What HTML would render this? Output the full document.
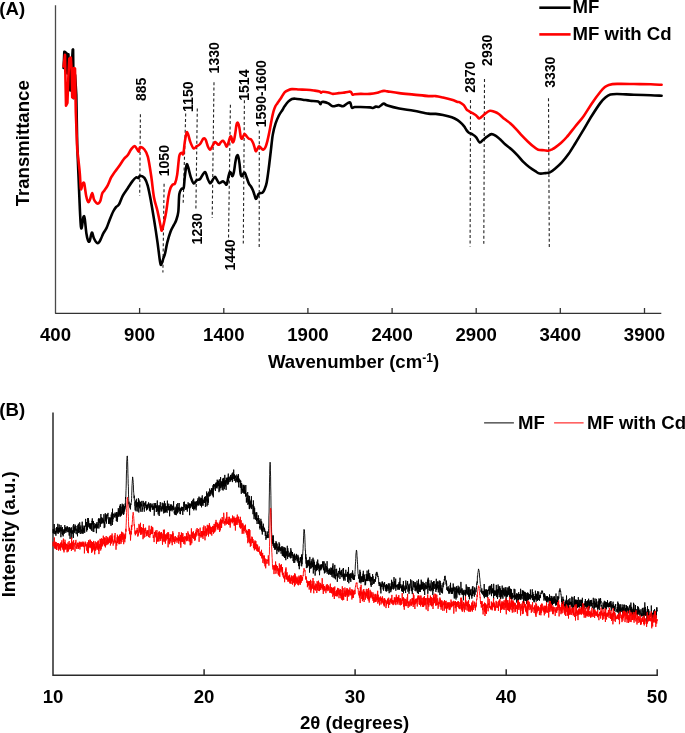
<!DOCTYPE html>
<html><head><meta charset="utf-8"><style>
html,body{margin:0;padding:0;background:#fff;}
body{width:685px;height:733px;overflow:hidden;font-family:"Liberation Sans",sans-serif;}
svg{display:block;will-change:transform;}
</style></head><body>
<svg width="685" height="733" viewBox="0 0 685 733">
<rect width="685" height="733" fill="#fff"/>
<g fill="none" stroke="#4a4a4a" stroke-width="1.3">
<path d="M55.5,5.3 V313.4"/>
</g><g fill="none" stroke="#333" stroke-width="1.3">
<path d="M55.2,313.4 H661.3"/>
<path d="M139.6,313.4 V308"/>
<path d="M223.8,313.4 V308"/>
<path d="M307.9,313.4 V308"/>
<path d="M392.1,313.4 V308"/>
<path d="M476.2,313.4 V308"/>
<path d="M560.3,313.4 V308"/>
<path d="M644.5,313.4 V308"/>
</g>
<g stroke="#222" stroke-width="1.1" stroke-dasharray="3 2.4" fill="none">
<path d="M140.4,114.2 L139.7,195.8"/>
<path d="M164.1,183.8 L162.9,272.6"/>
<path d="M185.7,113.5 L183.2,202.8"/>
<path d="M197.3,108.4 L195.9,208.5"/>
<path d="M214.0,82.2 L212.2,218.0"/>
<path d="M230.4,104.8 L228.5,240.0"/>
<path d="M244.4,100.3 L243.3,243.4"/>
<path d="M259.3,130.5 L259.2,247.0"/>
<path d="M470.5,100.1 L470.1,246.4"/>
<path d="M484.5,79.1 L483.8,243.7"/>
<path d="M548.5,98.3 L549.3,248.5"/>
</g>
<path fill="none" stroke="#000" stroke-width="2.6" stroke-linejoin="round" stroke-linecap="round" d="M63.60,68.00 L64.30,51.80 L65.50,52.30 L66.90,53.70 L67.40,73.50 L68.40,54.20 L70.30,90.50 L72.70,49.90 L73.10,49.40 L73.60,98.20 L75.10,75.00 L76.30,95.00 L77.20,144.00 C77.40,148.95 77.78,159.95 78.40,173.70 C79.02,187.45 80.07,219.28 80.90,226.50 C81.73,233.72 82.77,218.33 83.40,217.00 C84.03,215.67 84.20,215.75 84.70,218.50 C85.20,221.25 85.85,229.83 86.40,233.50 C86.95,237.17 87.45,239.25 88.00,240.50 C88.55,241.75 89.07,242.33 89.70,241.00 C90.33,239.67 91.08,232.92 91.80,232.50 C92.52,232.08 93.17,236.78 94.00,238.50 C94.83,240.22 95.97,242.17 96.80,242.80 C97.63,243.43 98.28,243.02 99.00,242.30 C99.72,241.58 100.38,239.98 101.10,238.50 C101.82,237.02 102.38,235.17 103.30,233.40 C104.22,231.63 105.50,230.27 106.60,227.90 C107.70,225.53 108.80,221.93 109.90,219.20 C111.00,216.47 112.18,213.50 113.20,211.50 C114.22,209.50 115.03,208.38 116.00,207.20 C116.97,206.02 117.88,206.30 119.00,204.40 C120.12,202.50 121.27,198.45 122.70,195.80 C124.13,193.15 125.97,190.95 127.60,188.50 C129.23,186.05 131.07,182.95 132.50,181.10 C133.93,179.25 135.18,177.90 136.20,177.40 C137.22,176.90 137.97,178.38 138.60,178.10 C139.23,177.82 139.03,175.73 140.00,175.70 C140.97,175.67 143.12,176.25 144.40,177.90 C145.68,179.55 146.62,181.77 147.70,185.60 C148.78,189.43 149.82,195.08 150.90,200.90 C151.98,206.72 153.10,213.58 154.20,220.50 C155.30,227.42 156.52,235.47 157.50,242.40 C158.48,249.33 159.45,258.45 160.10,262.10 C160.75,265.75 160.82,265.03 161.40,264.30 C161.98,263.57 162.98,259.53 163.60,257.70 C164.22,255.87 164.48,255.85 165.10,253.30 C165.72,250.75 166.38,246.03 167.30,242.40 C168.22,238.77 169.50,234.42 170.60,231.50 C171.70,228.58 172.98,226.73 173.90,224.90 C174.82,223.07 175.37,222.68 176.10,220.50 C176.83,218.32 177.77,216.17 178.30,211.80 C178.83,207.43 178.77,198.12 179.30,194.30 C179.83,190.48 180.77,189.98 181.50,188.90 C182.23,187.82 183.15,189.82 183.70,187.80 C184.25,185.78 184.32,180.63 184.80,176.80 C185.28,172.97 186.05,166.43 186.60,164.80 C187.15,163.17 187.42,165.00 188.10,167.00 C188.78,169.00 189.78,174.07 190.70,176.80 C191.62,179.53 192.58,182.85 193.60,183.40 C194.62,183.95 195.72,180.83 196.80,180.10 C197.88,179.37 199.00,180.08 200.10,179.00 C201.20,177.92 202.48,174.68 203.40,173.60 C204.32,172.52 204.87,171.60 205.60,172.50 C206.33,173.40 207.07,177.22 207.80,179.00 C208.53,180.78 209.30,182.87 210.00,183.20 C210.70,183.53 211.20,182.05 212.00,181.00 C212.80,179.95 214.00,177.13 214.80,176.90 C215.60,176.67 216.12,178.58 216.80,179.60 C217.48,180.62 218.22,182.53 218.90,183.00 C219.58,183.47 220.22,182.68 220.90,182.40 C221.58,182.12 222.32,181.20 223.00,181.30 C223.68,181.40 224.38,182.48 225.00,183.00 C225.62,183.52 226.13,185.42 226.70,184.40 C227.27,183.38 227.88,178.95 228.40,176.90 C228.92,174.85 229.33,172.67 229.80,172.10 C230.27,171.53 230.75,172.82 231.20,173.50 C231.65,174.18 232.05,176.43 232.50,176.20 C232.95,175.97 233.43,174.37 233.90,172.10 C234.37,169.83 234.85,165.22 235.30,162.60 C235.75,159.98 236.15,157.55 236.60,156.40 C237.05,155.25 237.53,154.67 238.00,155.70 C238.47,156.73 238.95,159.52 239.40,162.60 C239.85,165.68 240.25,171.93 240.70,174.20 C241.15,176.47 241.65,176.32 242.10,176.20 C242.55,176.08 242.95,174.07 243.40,173.50 C243.85,172.93 244.22,172.00 244.80,172.80 C245.38,173.60 246.22,176.48 246.90,178.30 C247.58,180.12 248.22,182.33 248.90,183.70 C249.58,185.07 250.32,185.37 251.00,186.50 C251.68,187.63 252.43,189.15 253.00,190.50 C253.57,191.85 253.95,193.23 254.40,194.60 C254.85,195.97 255.25,198.23 255.70,198.70 C256.15,199.17 256.63,198.18 257.10,197.40 C257.57,196.62 257.93,194.73 258.50,194.00 C259.07,193.27 259.82,193.23 260.50,193.00 C261.18,192.77 261.92,193.23 262.60,192.60 C263.28,191.97 263.92,190.90 264.60,189.20 C265.28,187.50 266.02,185.82 266.70,182.40 C267.38,178.98 268.02,173.93 268.70,168.70 C269.38,163.47 270.12,156.68 270.80,151.00 C271.48,145.32 272.02,139.15 272.80,134.60 C273.58,130.05 274.48,126.88 275.50,123.70 C276.52,120.52 277.75,117.78 278.90,115.50 C280.05,113.22 281.45,111.53 282.40,110.00 C283.35,108.47 283.63,107.70 284.60,106.30 C285.57,104.90 286.98,102.82 288.20,101.60 C289.42,100.38 290.68,99.48 291.90,99.00 C293.12,98.52 293.68,98.58 295.50,98.70 C297.32,98.82 300.37,99.37 302.80,99.70 C305.23,100.03 307.53,100.38 310.10,100.70 C312.67,101.02 316.48,101.03 318.20,101.60 C319.92,102.17 319.92,103.93 320.40,104.10 C320.88,104.27 320.62,102.97 321.10,102.60 C321.58,102.23 322.08,101.77 323.30,101.90 C324.52,102.03 326.82,102.67 328.40,103.40 C329.98,104.13 331.10,106.02 332.80,106.30 C334.50,106.58 336.90,105.10 338.60,105.10 C340.30,105.10 341.53,106.58 343.00,106.30 C344.47,106.02 346.18,104.02 347.40,103.40 C348.62,102.78 349.57,101.88 350.30,102.60 C351.03,103.32 351.07,106.97 351.80,107.70 C352.53,108.43 353.25,107.12 354.70,107.00 C356.15,106.88 357.95,106.93 360.50,107.00 C363.05,107.07 367.93,107.23 370.00,107.40 C372.07,107.57 371.93,108.13 372.90,108.00 C373.87,107.87 374.82,106.77 375.80,106.60 C376.78,106.43 377.82,107.30 378.80,107.00 C379.78,106.70 380.85,105.37 381.70,104.80 C382.55,104.23 382.93,103.48 383.90,103.60 C384.87,103.72 384.95,104.68 387.50,105.50 C390.05,106.32 394.82,107.63 399.20,108.50 C403.58,109.37 408.93,109.85 413.80,110.70 C418.67,111.55 424.75,113.07 428.40,113.60 C432.05,114.13 433.27,113.67 435.70,113.90 C438.13,114.13 440.32,114.45 443.00,115.00 C445.68,115.55 449.37,116.35 451.80,117.20 C454.23,118.05 455.90,119.00 457.60,120.10 C459.30,121.20 460.78,122.58 462.00,123.80 C463.22,125.02 464.17,126.37 464.90,127.40 C465.63,128.43 465.73,129.12 466.40,130.00 C467.07,130.88 467.88,131.97 468.90,132.70 C469.92,133.43 471.28,133.63 472.50,134.40 C473.72,135.17 475.03,135.97 476.20,137.30 C477.37,138.63 478.42,141.90 479.50,142.40 C480.58,142.90 481.43,141.27 482.70,140.30 C483.97,139.33 485.63,137.63 487.10,136.60 C488.57,135.57 490.03,134.22 491.50,134.10 C492.97,133.98 494.43,135.00 495.90,135.90 C497.37,136.80 498.72,138.05 500.30,139.50 C501.88,140.95 503.47,142.90 505.40,144.60 C507.33,146.30 509.83,147.87 511.90,149.70 C513.97,151.53 515.85,153.52 517.80,155.60 C519.75,157.68 521.65,160.25 523.60,162.20 C525.55,164.15 527.55,165.80 529.50,167.30 C531.45,168.80 533.60,170.17 535.30,171.20 C537.00,172.23 538.00,173.18 539.70,173.50 C541.40,173.82 543.80,173.28 545.50,173.10 C547.20,172.92 548.32,173.13 549.90,172.40 C551.48,171.67 553.02,170.38 555.00,168.70 C556.98,167.02 559.55,164.75 561.80,162.30 C564.05,159.85 566.27,157.13 568.50,154.00 C570.73,150.87 572.68,147.57 575.20,143.50 C577.72,139.43 580.80,134.27 583.60,129.60 C586.40,124.93 589.20,119.95 592.00,115.50 C594.80,111.05 598.17,105.90 600.40,102.90 C602.63,99.90 603.73,98.88 605.40,97.50 C607.07,96.12 608.45,95.18 610.40,94.60 C612.35,94.02 613.18,93.97 617.10,94.00 C621.02,94.03 628.30,94.60 633.90,94.80 C639.50,95.00 646.08,95.05 650.70,95.20 C655.32,95.35 659.78,95.62 661.60,95.70"/>
<path fill="none" stroke="#f00" stroke-width="2.6" stroke-linejoin="round" stroke-linecap="round" d="M63.60,66.50 L65.00,54.70 L66.00,105.80 L67.40,102.90 L68.40,76.40 L69.30,58.50 L70.80,57.50 L71.70,71.60 L72.20,97.20 L73.40,97.70 L74.00,68.10 L75.00,68.50 L75.80,112.00 L77.20,149.00 C77.62,152.83 79.08,165.33 79.70,172.00 C80.32,178.67 80.43,187.00 80.90,189.00 C81.37,191.00 81.95,184.92 82.50,184.00 C83.05,183.08 83.58,181.50 84.20,183.50 C84.82,185.50 85.53,192.92 86.20,196.00 C86.87,199.08 87.57,201.42 88.20,202.00 C88.83,202.58 89.33,201.00 90.00,199.50 C90.67,198.00 91.53,193.00 92.20,193.00 C92.87,193.00 93.28,197.83 94.00,199.50 C94.72,201.17 95.75,202.33 96.50,203.00 C97.25,203.67 97.83,203.92 98.50,203.50 C99.17,203.08 99.88,202.17 100.50,200.50 C101.12,198.83 101.55,195.17 102.20,193.50 C102.85,191.83 103.48,191.87 104.40,190.50 C105.32,189.13 106.60,187.43 107.70,185.30 C108.80,183.17 109.95,179.75 111.00,177.70 C112.05,175.65 112.67,174.90 114.00,173.00 C115.33,171.10 117.35,168.63 119.00,166.30 C120.65,163.97 122.47,160.83 123.90,159.00 C125.33,157.17 126.37,156.95 127.60,155.30 C128.83,153.65 130.07,150.62 131.30,149.10 C132.53,147.58 133.78,145.78 135.00,146.20 C136.22,146.62 137.77,151.42 138.60,151.60 C139.43,151.78 139.03,147.65 140.00,147.30 C140.97,146.95 143.08,147.90 144.40,149.50 C145.72,151.10 146.77,152.48 147.90,156.90 C149.03,161.32 150.18,169.23 151.20,176.00 C152.22,182.77 152.95,191.67 154.00,197.50 C155.05,203.33 156.37,206.07 157.50,211.00 C158.63,215.93 160.07,223.87 160.80,227.10 C161.53,230.33 161.37,231.13 161.90,230.40 C162.43,229.67 163.28,225.80 164.00,222.70 C164.72,219.60 165.47,216.17 166.20,211.80 C166.93,207.43 167.67,200.50 168.40,196.50 C169.13,192.50 169.87,189.80 170.60,187.80 C171.33,185.80 172.07,185.23 172.80,184.50 C173.53,183.77 174.27,185.05 175.00,183.40 C175.73,181.75 176.48,179.15 177.20,174.60 C177.92,170.05 178.58,159.73 179.30,156.10 C180.02,152.47 180.83,153.17 181.50,152.80 C182.17,152.43 182.75,155.72 183.30,153.90 C183.85,152.08 184.25,145.43 184.80,141.90 C185.35,138.37 186.05,133.98 186.60,132.70 C187.15,131.42 187.48,132.67 188.10,134.20 C188.72,135.73 189.38,139.53 190.30,141.90 C191.22,144.27 192.52,147.68 193.60,148.40 C194.68,149.12 195.72,146.93 196.80,146.20 C197.88,145.47 199.00,145.27 200.10,144.00 C201.20,142.73 202.48,139.32 203.40,138.60 C204.32,137.88 204.87,138.43 205.60,139.70 C206.33,140.97 207.07,144.55 207.80,146.20 C208.53,147.85 209.30,149.48 210.00,149.60 C210.70,149.72 211.20,148.15 212.00,146.90 C212.80,145.65 214.00,142.68 214.80,142.10 C215.60,141.52 216.12,142.95 216.80,143.40 C217.48,143.85 218.22,145.02 218.90,144.80 C219.58,144.58 220.22,142.78 220.90,142.10 C221.58,141.42 222.32,140.48 223.00,140.70 C223.68,140.92 224.38,142.42 225.00,143.40 C225.62,144.38 226.13,146.70 226.70,146.60 C227.27,146.50 227.88,144.23 228.40,142.80 C228.92,141.37 229.33,139.03 229.80,138.00 C230.27,136.97 230.75,135.92 231.20,136.60 C231.65,137.28 232.05,141.42 232.50,142.10 C232.95,142.78 233.43,142.18 233.90,140.70 C234.37,139.22 234.85,135.93 235.30,133.20 C235.75,130.47 236.15,126.00 236.60,124.30 C237.05,122.60 237.53,122.43 238.00,123.00 C238.47,123.57 238.95,125.43 239.40,127.70 C239.85,129.97 240.25,134.77 240.70,136.60 C241.15,138.43 241.65,138.82 242.10,138.70 C242.55,138.58 242.95,136.70 243.40,135.90 C243.85,135.10 244.22,133.78 244.80,133.90 C245.38,134.02 246.22,135.80 246.90,136.60 C247.58,137.40 248.22,138.23 248.90,138.70 C249.58,139.17 250.32,138.72 251.00,139.40 C251.68,140.08 252.43,141.55 253.00,142.80 C253.57,144.05 253.95,145.53 254.40,146.90 C254.85,148.27 255.25,150.55 255.70,151.00 C256.15,151.45 256.53,150.40 257.10,149.60 C257.67,148.80 258.42,146.43 259.10,146.20 C259.78,145.97 260.52,147.63 261.20,148.20 C261.88,148.77 262.52,149.72 263.20,149.60 C263.88,149.48 264.62,148.87 265.30,147.50 C265.98,146.13 266.62,144.02 267.30,141.40 C267.98,138.78 268.72,135.22 269.40,131.80 C270.08,128.38 270.72,124.30 271.40,120.90 C272.08,117.50 272.82,113.88 273.50,111.40 C274.18,108.92 274.87,107.33 275.50,106.00 C276.13,104.67 276.40,104.70 277.30,103.40 C278.20,102.10 279.68,100.03 280.90,98.20 C282.12,96.37 283.38,93.73 284.60,92.40 C285.82,91.07 286.98,90.75 288.20,90.20 C289.42,89.65 290.07,89.22 291.90,89.10 C293.73,88.98 296.77,89.38 299.20,89.50 C301.63,89.62 304.07,89.63 306.50,89.80 C308.93,89.97 311.62,90.23 313.80,90.50 C315.98,90.77 318.38,91.02 319.60,91.40 C320.82,91.78 320.60,92.75 321.10,92.80 C321.60,92.85 321.38,91.77 322.60,91.70 C323.82,91.63 326.70,92.03 328.40,92.40 C330.10,92.77 331.10,93.78 332.80,93.90 C334.50,94.02 336.90,93.28 338.60,93.10 C340.30,92.92 341.30,93.03 343.00,92.80 C344.70,92.57 347.47,91.83 348.80,91.70 C350.13,91.57 350.38,91.52 351.00,92.00 C351.62,92.48 351.88,94.23 352.50,94.60 C353.12,94.97 353.37,94.32 354.70,94.20 C356.03,94.08 357.95,93.95 360.50,93.90 C363.05,93.85 367.20,94.08 370.00,93.90 C372.80,93.72 375.60,93.17 377.30,92.80 C379.00,92.43 379.10,92.02 380.20,91.70 C381.30,91.38 382.68,90.95 383.90,90.90 C385.12,90.85 384.95,91.03 387.50,91.40 C390.05,91.77 394.82,92.57 399.20,93.10 C403.58,93.63 408.93,94.10 413.80,94.60 C418.67,95.10 424.75,95.85 428.40,96.10 C432.05,96.35 433.27,95.87 435.70,96.10 C438.13,96.33 440.32,96.90 443.00,97.50 C445.68,98.10 449.37,98.97 451.80,99.70 C454.23,100.43 456.33,101.48 457.60,101.90 C458.87,102.32 458.37,101.65 459.40,102.20 C460.43,102.75 462.58,103.97 463.80,105.20 C465.02,106.43 465.85,108.62 466.70,109.60 C467.55,110.58 467.93,110.50 468.90,111.10 C469.87,111.70 471.28,112.48 472.50,113.20 C473.72,113.92 475.10,114.53 476.20,115.40 C477.30,116.27 478.13,118.20 479.10,118.40 C480.07,118.60 480.90,117.47 482.00,116.60 C483.10,115.73 484.37,114.17 485.70,113.20 C487.03,112.23 488.55,111.03 490.00,110.80 C491.45,110.57 492.93,111.27 494.40,111.80 C495.87,112.33 497.10,112.78 498.80,114.00 C500.50,115.22 502.65,117.52 504.60,119.10 C506.55,120.68 508.55,121.80 510.50,123.50 C512.45,125.20 514.35,127.23 516.30,129.30 C518.25,131.37 520.25,133.83 522.20,135.90 C524.15,137.97 526.07,139.88 528.00,141.70 C529.93,143.52 532.10,145.47 533.80,146.80 C535.50,148.13 536.48,149.13 538.20,149.70 C539.92,150.27 542.40,150.02 544.10,150.20 C545.80,150.38 547.07,150.95 548.40,150.80 C549.73,150.65 551.00,149.83 552.10,149.30 C553.20,148.77 553.53,148.65 555.00,147.60 C556.47,146.55 558.93,144.77 560.90,143.00 C562.87,141.23 564.42,139.75 566.80,137.00 C569.18,134.25 572.40,129.97 575.20,126.50 C578.00,123.03 580.80,120.08 583.60,116.20 C586.40,112.32 589.20,107.27 592.00,103.20 C594.80,99.13 598.30,94.45 600.40,91.80 C602.50,89.15 603.20,88.45 604.60,87.30 C606.00,86.15 606.72,85.47 608.80,84.90 C610.88,84.33 612.92,84.05 617.10,83.90 C621.28,83.75 628.30,83.93 633.90,84.00 C639.50,84.07 646.08,84.17 650.70,84.30 C655.32,84.43 659.78,84.72 661.60,84.80"/>
<g style="font-family:'Liberation Sans',sans-serif;font-weight:bold;font-size:14px" fill="#000">
<text transform="translate(145.5,101.0) rotate(-90)">885</text>
<text transform="translate(168.8,176.2) rotate(-90)">1050</text>
<text transform="translate(192.6,111.9) rotate(-90)">1150</text>
<text transform="translate(202.3,244.4) rotate(-90)">1230</text>
<text transform="translate(218.5,73.4) rotate(-90)">1330</text>
<text transform="translate(235.2,270.5) rotate(-90)">1440</text>
<text transform="translate(249.0,100.7) rotate(-90)">1514</text>
<text transform="translate(266.0,127.2) rotate(-90)">1590-1600</text>
<text transform="translate(474.9,92.7) rotate(-90)">2870</text>
<text transform="translate(491.7,65.9) rotate(-90)">2930</text>
<text transform="translate(554.8,87.8) rotate(-90)">3330</text>
</g>
<g style="font-family:'Liberation Sans',sans-serif;font-weight:bold;font-size:18.6px" fill="#000" text-anchor="middle">
<text x="55.5" y="341">400</text>
<text x="139.6" y="341">900</text>
<text x="223.8" y="341">1400</text>
<text x="307.9" y="341">1900</text>
<text x="392.1" y="341">2400</text>
<text x="476.2" y="341">2900</text>
<text x="560.3" y="341">3400</text>
<text x="644.5" y="341">3900</text>
</g>
<text x="353.5" y="368.3" text-anchor="middle" style="font-family:'Liberation Sans',sans-serif;font-weight:bold;font-size:18.6px">Wavenumber (cm<tspan dy="-6" style="font-size:12px">-1</tspan><tspan dy="6">)</tspan></text>
<text transform="translate(29,143.3) rotate(-90)" text-anchor="middle" style="font-family:'Liberation Sans',sans-serif;font-weight:bold;font-size:18.6px">Transmittance</text>
<text x="-0.7" y="15" style="font-family:'Liberation Sans',sans-serif;font-weight:bold;font-size:18.6px">(A)</text>
<path d="M539.3,7.7 H570.6" stroke="#000" stroke-width="2.6"/>
<path d="M539.3,34.4 H570.6" stroke="#f00" stroke-width="2.6"/>
<text x="572.5" y="12.8" style="font-family:'Liberation Sans',sans-serif;font-weight:bold;font-size:18.6px">MF</text>
<text x="572.5" y="40" style="font-family:'Liberation Sans',sans-serif;font-weight:bold;font-size:18.6px">MF with Cd</text>
<g fill="none" stroke="#2a2a2a" stroke-width="1.5">
<path d="M53,412.6 V675.2 H657.2 V669.3"/>
<path d="M204.1,675.2 V669.3"/>
<path d="M355.1,675.2 V669.3"/>
<path d="M506.2,675.2 V669.3"/>
</g>
<polyline fill="none" stroke="#000" stroke-width="0.9" stroke-linejoin="round" points="53.0,533.1 53.2,529.2 53.3,530.8 53.5,533.0 53.6,530.0 53.8,533.6 53.9,529.6 54.1,530.9 54.2,524.0 54.4,530.5 54.5,530.9 54.7,530.8 54.8,534.1 55.0,532.6 55.1,530.8 55.3,532.2 55.4,531.2 55.6,533.8 55.7,531.8 55.9,535.7 56.0,531.4 56.2,528.1 56.3,531.0 56.5,527.4 56.6,530.6 56.8,532.2 56.9,527.0 57.1,533.4 57.2,528.0 57.4,528.6 57.5,531.3 57.7,530.2 57.8,523.8 58.0,527.3 58.1,533.1 58.3,533.8 58.4,527.7 58.6,528.2 58.7,532.2 58.9,528.3 59.0,532.0 59.2,524.5 59.3,526.4 59.5,528.0 59.6,532.4 59.8,530.0 60.0,528.0 60.1,528.3 60.3,530.6 60.4,530.8 60.6,528.8 60.7,527.0 60.9,537.2 61.0,525.1 61.2,529.8 61.3,531.3 61.5,530.7 61.6,529.9 61.8,531.1 61.9,528.0 62.1,533.9 62.2,529.4 62.4,527.0 62.5,527.5 62.7,535.0 62.8,532.5 63.0,533.2 63.1,536.4 63.3,534.1 63.4,530.6 63.6,532.4 63.7,532.6 63.9,529.3 64.0,531.1 64.2,533.8 64.3,529.4 64.5,532.6 64.6,531.5 64.8,525.1 64.9,527.1 65.1,527.1 65.2,531.2 65.4,527.3 65.5,528.9 65.7,530.3 65.8,532.9 66.0,531.2 66.1,528.8 66.3,528.6 66.4,531.4 66.6,528.1 66.7,527.5 66.9,529.5 67.1,526.2 67.2,529.1 67.4,527.8 67.5,526.8 67.7,528.2 67.8,532.1 68.0,527.9 68.1,528.8 68.3,532.2 68.4,530.2 68.6,530.2 68.7,529.8 68.9,528.6 69.0,527.2 69.2,535.6 69.3,528.3 69.5,527.3 69.6,530.0 69.8,531.4 69.9,532.4 70.1,538.9 70.2,527.7 70.4,528.8 70.5,530.4 70.7,532.6 70.8,531.8 71.0,529.3 71.1,532.3 71.3,533.5 71.4,530.5 71.6,527.4 71.7,538.9 71.9,536.7 72.0,532.7 72.2,533.0 72.3,531.5 72.5,530.9 72.6,533.7 72.8,533.6 72.9,530.0 73.1,531.8 73.2,525.5 73.4,537.9 73.5,532.5 73.7,524.0 73.9,526.3 74.0,532.0 74.2,531.8 74.3,529.2 74.5,529.5 74.6,526.6 74.8,533.1 74.9,528.9 75.1,530.5 75.2,524.7 75.4,530.4 75.5,528.9 75.7,529.6 75.8,527.4 76.0,526.0 76.1,533.6 76.3,534.2 76.4,531.4 76.6,529.2 76.7,529.3 76.9,528.6 77.0,530.5 77.2,530.7 77.3,530.3 77.5,536.3 77.6,532.3 77.8,525.2 77.9,528.7 78.1,531.1 78.2,528.7 78.4,523.7 78.5,532.9 78.7,530.5 78.8,528.5 79.0,527.4 79.1,530.3 79.3,532.0 79.4,532.5 79.6,530.7 79.7,522.3 79.9,529.2 80.0,527.2 80.2,532.7 80.3,534.0 80.5,530.2 80.6,526.4 80.8,525.5 81.0,525.9 81.1,531.4 81.3,530.2 81.4,531.0 81.6,529.6 81.7,533.5 81.9,530.1 82.0,531.0 82.2,521.7 82.3,530.2 82.5,533.2 82.6,533.5 82.8,527.3 82.9,529.1 83.1,525.6 83.2,533.6 83.4,528.2 83.5,531.2 83.7,529.7 83.8,529.1 84.0,529.4 84.1,531.7 84.3,530.3 84.4,530.5 84.6,526.0 84.7,532.9 84.9,526.7 85.0,526.3 85.2,525.2 85.3,526.7 85.5,526.2 85.6,518.9 85.8,524.8 85.9,523.4 86.1,524.7 86.2,525.8 86.4,525.1 86.5,522.0 86.7,531.6 86.8,526.0 87.0,528.5 87.1,529.8 87.3,524.1 87.4,530.1 87.6,523.8 87.8,518.0 87.9,527.1 88.1,527.1 88.2,519.9 88.4,518.2 88.5,524.4 88.7,520.5 88.8,523.7 89.0,526.7 89.1,523.2 89.3,527.6 89.4,525.3 89.6,523.9 89.7,528.6 89.9,526.7 90.0,523.4 90.2,523.4 90.3,525.2 90.5,523.7 90.6,529.3 90.8,524.1 90.9,528.6 91.1,524.0 91.2,525.1 91.4,523.6 91.5,523.0 91.7,530.8 91.8,527.0 92.0,520.9 92.1,522.4 92.3,518.4 92.4,524.1 92.6,520.7 92.7,524.5 92.9,524.2 93.0,531.6 93.2,521.3 93.3,522.8 93.5,521.4 93.6,525.6 93.8,532.0 93.9,524.3 94.1,524.1 94.2,523.1 94.4,527.3 94.5,528.3 94.7,527.6 94.9,525.7 95.0,528.3 95.2,525.7 95.3,524.2 95.5,524.3 95.6,527.5 95.8,524.8 95.9,526.2 96.1,523.6 96.2,527.0 96.4,533.2 96.5,526.6 96.7,523.7 96.8,528.3 97.0,522.0 97.1,526.3 97.3,527.0 97.4,525.6 97.6,525.3 97.7,528.3 97.9,526.7 98.0,524.1 98.2,524.8 98.3,519.4 98.5,521.6 98.6,518.3 98.8,523.1 98.9,528.5 99.1,522.3 99.2,522.0 99.4,522.7 99.5,518.8 99.7,522.6 99.8,520.9 100.0,521.1 100.1,518.4 100.3,526.8 100.4,522.4 100.6,524.1 100.7,524.2 100.9,514.0 101.0,520.1 101.2,520.9 101.3,523.5 101.5,522.0 101.7,517.3 101.8,519.6 102.0,523.6 102.1,522.1 102.3,521.2 102.4,522.2 102.6,522.6 102.7,517.9 102.9,522.2 103.0,519.3 103.2,519.9 103.3,521.0 103.5,522.0 103.6,520.0 103.8,523.4 103.9,514.2 104.1,519.7 104.2,528.1 104.4,521.9 104.5,522.0 104.7,524.3 104.8,527.4 105.0,522.9 105.1,519.1 105.3,513.2 105.4,520.7 105.6,517.2 105.7,515.5 105.9,520.3 106.0,518.9 106.2,522.0 106.3,514.6 106.5,523.6 106.6,516.5 106.8,518.3 106.9,519.2 107.1,517.4 107.2,514.1 107.4,516.1 107.5,516.1 107.7,516.1 107.8,514.3 108.0,512.9 108.1,517.9 108.3,517.4 108.4,518.5 108.6,523.9 108.8,520.1 108.9,519.1 109.1,517.9 109.2,523.7 109.4,522.6 109.5,519.2 109.7,522.3 109.8,517.2 110.0,519.8 110.1,524.2 110.3,520.6 110.4,520.8 110.6,517.7 110.7,524.2 110.9,519.9 111.0,525.9 111.2,514.6 111.3,515.9 111.5,519.5 111.6,516.9 111.8,515.7 111.9,512.4 112.1,521.2 112.2,521.1 112.4,525.0 112.5,508.7 112.7,522.1 112.8,514.8 113.0,516.4 113.1,519.2 113.3,514.8 113.4,514.3 113.6,513.8 113.7,515.0 113.9,513.8 114.0,516.1 114.2,516.9 114.3,517.0 114.5,517.4 114.6,515.3 114.8,516.9 114.9,513.3 115.1,512.5 115.2,514.7 115.4,513.8 115.6,516.3 115.7,516.2 115.9,513.6 116.0,517.8 116.2,517.1 116.3,521.0 116.5,519.1 116.6,512.0 116.8,516.6 116.9,513.3 117.1,514.1 117.2,521.9 117.4,516.6 117.5,520.1 117.7,515.9 117.8,515.2 118.0,511.9 118.1,517.0 118.3,508.2 118.4,516.2 118.6,513.0 118.7,514.3 118.9,509.9 119.0,515.4 119.2,515.6 119.3,510.9 119.5,512.9 119.6,514.3 119.8,505.8 119.9,514.5 120.1,516.9 120.2,505.1 120.4,504.1 120.5,515.9 120.7,513.2 120.8,512.3 121.0,515.2 121.1,506.7 121.3,515.5 121.4,513.4 121.6,511.6 121.7,514.1 121.9,512.1 122.0,508.6 122.2,503.7 122.3,511.2 122.5,505.5 122.7,513.2 122.8,508.5 123.0,512.8 123.1,514.3 123.3,504.5 123.4,504.5 123.6,514.9 123.7,508.8 123.9,513.8 124.0,509.5 124.2,506.1 124.3,508.6 124.5,508.9 124.6,511.5 124.8,506.7 124.9,509.4 125.1,508.1 125.2,503.5 125.4,507.2 125.5,497.0 125.7,498.8 125.8,497.3 126.0,490.4 126.1,488.7 126.3,480.9 126.4,475.0 126.6,469.5 126.7,463.0 126.9,459.3 127.0,457.5 127.2,456.0 127.3,455.9 127.5,458.4 127.6,461.4 127.8,467.9 127.9,473.3 128.1,478.6 128.2,483.8 128.4,486.3 128.5,494.9 128.7,498.3 128.8,504.2 129.0,501.7 129.1,505.1 129.3,506.0 129.5,506.7 129.6,507.5 129.8,506.6 129.9,506.5 130.1,503.5 130.2,507.9 130.4,509.4 130.5,507.9 130.7,504.4 130.8,503.8 131.0,504.7 131.1,503.1 131.3,502.3 131.4,502.2 131.6,498.5 131.7,495.6 131.9,490.0 132.0,485.7 132.2,483.5 132.3,481.2 132.5,478.9 132.6,476.9 132.8,478.1 132.9,479.2 133.1,480.3 133.2,482.6 133.4,484.5 133.5,490.1 133.7,492.7 133.8,493.6 134.0,496.7 134.1,498.2 134.3,495.7 134.4,500.7 134.6,501.4 134.7,506.0 134.9,506.5 135.0,507.0 135.2,510.4 135.3,503.5 135.5,501.2 135.6,500.6 135.8,504.4 135.9,505.4 136.1,511.3 136.2,502.0 136.4,498.8 136.6,507.3 136.7,503.7 136.9,505.2 137.0,504.3 137.2,503.9 137.3,505.8 137.5,502.3 137.6,505.9 137.8,511.5 137.9,505.9 138.1,503.1 138.2,506.8 138.4,498.2 138.5,505.9 138.7,499.1 138.8,512.5 139.0,507.6 139.1,500.5 139.3,505.3 139.4,505.2 139.6,508.3 139.7,504.6 139.9,505.3 140.0,501.6 140.2,505.0 140.3,503.5 140.5,502.1 140.6,508.1 140.8,511.7 140.9,503.5 141.1,505.6 141.2,506.5 141.4,504.0 141.5,505.3 141.7,505.9 141.8,500.9 142.0,503.5 142.1,511.8 142.3,510.7 142.4,510.0 142.6,507.7 142.7,509.3 142.9,504.5 143.0,504.3 143.2,500.9 143.4,502.2 143.5,506.5 143.7,505.0 143.8,504.1 144.0,502.8 144.1,503.9 144.3,511.7 144.4,507.0 144.6,508.9 144.7,507.8 144.9,503.0 145.0,505.1 145.2,502.4 145.3,505.9 145.5,506.0 145.6,505.4 145.8,501.2 145.9,506.9 146.1,508.0 146.2,505.5 146.4,505.2 146.5,510.4 146.7,505.0 146.8,509.3 147.0,504.6 147.1,507.2 147.3,509.5 147.4,504.5 147.6,508.5 147.7,508.1 147.9,506.8 148.0,508.2 148.2,505.4 148.3,503.4 148.5,503.0 148.6,502.4 148.8,506.7 148.9,503.2 149.1,505.4 149.2,504.1 149.4,510.6 149.5,508.7 149.7,505.5 149.8,510.6 150.0,505.9 150.1,506.4 150.3,511.8 150.5,509.9 150.6,503.3 150.8,507.6 150.9,506.0 151.1,506.5 151.2,507.3 151.4,506.0 151.5,506.6 151.7,506.3 151.8,504.7 152.0,505.8 152.1,503.6 152.3,509.7 152.4,507.0 152.6,509.0 152.7,506.0 152.9,509.6 153.0,505.7 153.2,506.2 153.3,509.4 153.5,506.8 153.6,509.1 153.8,507.6 153.9,507.8 154.1,503.1 154.2,515.7 154.4,512.2 154.5,506.7 154.7,507.3 154.8,507.0 155.0,503.3 155.1,508.0 155.3,505.5 155.4,507.6 155.6,505.0 155.7,503.0 155.9,506.2 156.0,508.7 156.2,509.4 156.3,512.0 156.5,508.1 156.6,505.4 156.8,511.5 156.9,506.6 157.1,507.1 157.3,500.5 157.4,503.4 157.6,505.9 157.7,511.2 157.9,510.8 158.0,505.6 158.2,514.5 158.3,508.6 158.5,506.7 158.6,509.7 158.8,511.8 158.9,511.0 159.1,505.1 159.2,516.0 159.4,509.3 159.5,505.8 159.7,510.2 159.8,512.2 160.0,509.5 160.1,507.1 160.3,502.1 160.4,506.5 160.6,506.0 160.7,507.0 160.9,509.5 161.0,508.3 161.2,510.8 161.3,507.2 161.5,511.0 161.6,510.0 161.8,511.6 161.9,506.2 162.1,509.2 162.2,502.7 162.4,507.0 162.5,506.6 162.7,508.6 162.8,508.6 163.0,503.1 163.1,510.4 163.3,505.5 163.4,508.9 163.6,506.3 163.7,513.4 163.9,510.2 164.0,503.8 164.2,510.8 164.4,500.9 164.5,501.1 164.7,512.8 164.8,511.7 165.0,510.6 165.1,512.0 165.3,503.4 165.4,508.9 165.6,512.4 165.7,506.5 165.9,508.4 166.0,511.8 166.2,509.3 166.3,506.1 166.5,508.4 166.6,510.8 166.8,509.6 166.9,508.8 167.1,512.8 167.2,507.3 167.4,500.6 167.5,507.9 167.7,503.2 167.8,508.9 168.0,510.0 168.1,508.0 168.3,506.0 168.4,508.1 168.6,510.3 168.7,505.2 168.9,503.8 169.0,508.7 169.2,506.4 169.3,507.2 169.5,506.8 169.6,516.3 169.8,506.6 169.9,509.9 170.1,505.9 170.2,511.1 170.4,510.5 170.5,504.5 170.7,509.6 170.8,508.0 171.0,509.2 171.2,507.5 171.3,510.2 171.5,507.5 171.6,504.5 171.8,508.3 171.9,510.5 172.1,511.3 172.2,511.0 172.4,506.2 172.5,508.5 172.7,505.9 172.8,509.6 173.0,505.8 173.1,507.8 173.3,509.7 173.4,506.9 173.6,501.1 173.7,509.7 173.9,508.5 174.0,508.0 174.2,513.3 174.3,512.3 174.5,512.5 174.6,511.3 174.8,514.6 174.9,508.4 175.1,506.7 175.2,509.4 175.4,514.9 175.5,510.7 175.7,514.1 175.8,507.8 176.0,508.1 176.1,511.1 176.3,515.2 176.4,512.1 176.6,507.8 176.7,504.3 176.9,511.9 177.0,509.7 177.2,511.4 177.3,507.3 177.5,513.4 177.6,510.9 177.8,503.0 177.9,506.1 178.1,512.3 178.3,511.6 178.4,507.5 178.6,509.4 178.7,509.7 178.9,507.4 179.0,508.7 179.2,503.0 179.3,508.5 179.5,510.7 179.6,508.3 179.8,511.2 179.9,511.6 180.1,513.9 180.2,508.9 180.4,514.2 180.5,513.1 180.7,510.4 180.8,507.7 181.0,509.7 181.1,509.4 181.3,507.9 181.4,510.9 181.6,510.0 181.7,506.7 181.9,509.7 182.0,508.9 182.2,508.3 182.3,507.0 182.5,508.4 182.6,510.4 182.8,514.9 182.9,507.0 183.1,510.3 183.2,509.9 183.4,508.6 183.5,507.3 183.7,506.5 183.8,502.0 184.0,511.4 184.1,509.0 184.3,503.8 184.4,501.6 184.6,504.7 184.7,505.6 184.9,507.1 185.1,504.4 185.2,508.2 185.4,508.3 185.5,509.9 185.7,507.0 185.8,507.6 186.0,507.1 186.1,504.2 186.3,506.3 186.4,509.4 186.6,509.7 186.7,504.8 186.9,508.4 187.0,505.6 187.2,509.7 187.3,511.6 187.5,505.4 187.6,508.8 187.8,506.2 187.9,506.7 188.1,502.3 188.2,503.6 188.4,507.5 188.5,508.1 188.7,505.1 188.8,503.7 189.0,504.2 189.1,505.9 189.3,505.1 189.4,503.8 189.6,515.2 189.7,509.9 189.9,503.4 190.0,507.7 190.2,507.5 190.3,508.2 190.5,503.9 190.6,504.1 190.8,505.3 190.9,505.0 191.1,507.3 191.2,506.8 191.4,504.5 191.5,501.3 191.7,506.0 191.8,502.8 192.0,505.1 192.2,505.7 192.3,501.9 192.5,505.8 192.6,509.0 192.8,499.8 192.9,502.5 193.1,503.3 193.2,503.1 193.4,507.7 193.5,508.6 193.7,498.6 193.8,510.4 194.0,502.6 194.1,505.9 194.3,509.1 194.4,506.1 194.6,508.6 194.7,505.2 194.9,501.4 195.0,504.0 195.2,501.9 195.3,505.7 195.5,505.5 195.6,502.5 195.8,508.6 195.9,504.6 196.1,510.3 196.2,503.2 196.4,501.3 196.5,505.1 196.7,506.6 196.8,505.5 197.0,505.1 197.1,501.5 197.3,505.3 197.4,501.3 197.6,499.9 197.7,505.1 197.9,503.8 198.0,498.2 198.2,500.5 198.3,501.5 198.5,505.5 198.6,501.2 198.8,500.6 199.0,496.6 199.1,498.4 199.3,497.7 199.4,503.5 199.6,503.6 199.7,499.7 199.9,505.0 200.0,505.4 200.2,498.8 200.3,503.0 200.5,505.6 200.6,500.7 200.8,497.7 200.9,498.8 201.1,502.1 201.2,503.6 201.4,498.0 201.5,507.3 201.7,499.2 201.8,505.9 202.0,500.3 202.1,496.3 202.3,495.4 202.4,498.1 202.6,504.5 202.7,499.7 202.9,499.3 203.0,505.8 203.2,503.8 203.3,500.2 203.5,502.5 203.6,502.4 203.8,500.0 203.9,502.6 204.1,499.2 204.2,498.2 204.4,503.0 204.5,497.0 204.7,500.6 204.8,499.9 205.0,497.9 205.1,499.0 205.3,496.4 205.4,506.9 205.6,497.1 205.7,496.6 205.9,499.4 206.1,499.0 206.2,501.5 206.4,497.6 206.5,496.2 206.7,491.5 206.8,495.1 207.0,506.3 207.1,497.1 207.3,494.1 207.4,493.4 207.6,498.1 207.7,501.2 207.9,505.0 208.0,498.5 208.2,502.1 208.3,499.5 208.5,502.6 208.6,491.7 208.8,493.6 208.9,494.5 209.1,496.5 209.2,493.1 209.4,494.4 209.5,496.1 209.7,488.5 209.8,492.3 210.0,492.0 210.1,496.1 210.3,493.0 210.4,492.0 210.6,491.4 210.7,493.9 210.9,490.0 211.0,494.5 211.2,491.5 211.3,491.6 211.5,489.4 211.6,488.4 211.8,492.5 211.9,488.6 212.1,489.9 212.2,488.3 212.4,495.5 212.5,491.1 212.7,492.3 212.9,485.6 213.0,485.3 213.2,487.7 213.3,497.3 213.5,484.0 213.6,489.0 213.8,485.1 213.9,489.6 214.1,489.2 214.2,485.8 214.4,484.6 214.5,485.5 214.7,486.5 214.8,485.4 215.0,484.4 215.1,486.2 215.3,483.8 215.4,491.0 215.6,485.3 215.7,485.5 215.9,482.9 216.0,485.4 216.2,486.7 216.3,482.3 216.5,485.9 216.6,488.1 216.8,484.4 216.9,487.8 217.1,488.4 217.2,479.7 217.4,484.7 217.5,481.4 217.7,486.6 217.8,480.8 218.0,483.9 218.1,480.7 218.3,485.9 218.4,483.6 218.6,481.3 218.7,485.6 218.9,483.4 219.0,492.2 219.2,481.3 219.3,479.3 219.5,482.7 219.6,482.7 219.8,490.8 220.0,483.1 220.1,485.3 220.3,488.2 220.4,485.1 220.6,477.1 220.7,480.3 220.9,482.2 221.0,484.7 221.2,487.6 221.3,481.5 221.5,486.2 221.6,483.9 221.8,485.1 221.9,484.4 222.1,481.3 222.2,489.8 222.4,486.3 222.5,484.6 222.7,478.5 222.8,486.5 223.0,484.5 223.1,490.5 223.3,482.3 223.4,482.3 223.6,477.9 223.7,486.2 223.9,481.1 224.0,483.9 224.2,480.8 224.3,489.2 224.5,484.4 224.6,484.7 224.8,474.9 224.9,483.6 225.1,480.6 225.2,483.3 225.4,486.4 225.5,482.9 225.7,483.5 225.8,480.0 226.0,484.1 226.1,489.9 226.3,477.7 226.4,482.4 226.6,479.2 226.8,481.6 226.9,478.2 227.1,483.8 227.2,483.5 227.4,482.2 227.5,477.6 227.7,477.7 227.8,484.9 228.0,481.5 228.1,477.4 228.3,473.6 228.4,483.7 228.6,482.8 228.7,483.2 228.9,476.9 229.0,480.0 229.2,482.0 229.3,479.4 229.5,479.0 229.6,479.4 229.8,476.7 229.9,476.7 230.1,479.8 230.2,478.0 230.4,480.5 230.5,475.0 230.7,481.6 230.8,481.1 231.0,476.4 231.1,474.8 231.3,480.0 231.4,477.1 231.6,477.5 231.7,477.1 231.9,479.5 232.0,473.5 232.2,477.2 232.3,476.8 232.5,482.1 232.6,476.9 232.8,472.5 232.9,478.0 233.1,477.4 233.2,479.0 233.4,477.7 233.5,476.1 233.7,469.6 233.9,476.4 234.0,478.9 234.2,475.7 234.3,480.9 234.5,474.4 234.6,478.4 234.8,476.8 234.9,477.1 235.1,475.3 235.2,478.1 235.4,476.0 235.5,477.6 235.7,476.7 235.8,482.6 236.0,478.8 236.1,481.7 236.3,478.2 236.4,478.9 236.6,480.2 236.7,477.7 236.9,474.5 237.0,479.8 237.2,476.8 237.3,478.0 237.5,480.9 237.6,482.0 237.8,478.3 237.9,476.0 238.1,482.3 238.2,475.7 238.4,483.2 238.5,474.2 238.7,487.3 238.8,483.3 239.0,478.4 239.1,479.9 239.3,482.2 239.4,480.6 239.6,481.5 239.7,479.4 239.9,481.6 240.0,481.8 240.2,480.3 240.3,487.9 240.5,482.4 240.7,481.5 240.8,480.8 241.0,485.7 241.1,484.0 241.3,493.8 241.4,483.0 241.6,489.7 241.7,484.1 241.9,483.8 242.0,489.9 242.2,490.2 242.3,490.2 242.5,489.3 242.6,491.4 242.8,488.9 242.9,493.0 243.1,485.0 243.2,491.2 243.4,491.1 243.5,492.2 243.7,488.9 243.8,484.8 244.0,493.7 244.1,485.4 244.3,493.0 244.4,489.6 244.6,486.6 244.7,493.0 244.9,491.5 245.0,493.8 245.2,490.4 245.3,494.1 245.5,491.9 245.6,496.5 245.8,485.0 245.9,492.3 246.1,496.3 246.2,493.4 246.4,502.6 246.5,498.1 246.7,500.2 246.8,497.9 247.0,501.9 247.1,500.5 247.3,498.1 247.4,492.9 247.6,492.0 247.8,492.3 247.9,504.9 248.1,497.9 248.2,495.4 248.4,500.0 248.5,504.0 248.7,499.3 248.8,500.4 249.0,504.0 249.1,501.6 249.3,508.9 249.4,495.9 249.6,503.9 249.7,509.1 249.9,502.4 250.0,503.2 250.2,505.3 250.3,502.4 250.5,501.4 250.6,505.0 250.8,507.6 250.9,502.9 251.1,499.7 251.2,507.3 251.4,496.2 251.5,504.3 251.7,509.1 251.8,504.5 252.0,504.3 252.1,504.6 252.3,504.9 252.4,505.9 252.6,505.6 252.7,507.7 252.9,507.5 253.0,514.2 253.2,506.6 253.3,500.4 253.5,502.8 253.6,508.1 253.8,511.5 253.9,506.2 254.1,519.2 254.2,510.4 254.4,516.0 254.6,507.8 254.7,508.6 254.9,516.6 255.0,512.9 255.2,512.6 255.3,515.0 255.5,516.0 255.6,519.0 255.8,517.2 255.9,520.0 256.1,513.9 256.2,512.2 256.4,512.4 256.5,521.1 256.7,513.7 256.8,512.5 257.0,515.8 257.1,524.0 257.3,518.5 257.4,519.5 257.6,518.4 257.7,520.2 257.9,518.5 258.0,520.0 258.2,519.7 258.3,515.3 258.5,517.4 258.6,523.9 258.8,519.8 258.9,518.0 259.1,520.9 259.2,521.0 259.4,524.4 259.5,520.5 259.7,521.1 259.8,528.1 260.0,525.9 260.1,529.5 260.3,525.3 260.4,524.4 260.6,523.8 260.7,525.1 260.9,518.8 261.0,526.0 261.2,521.5 261.4,525.3 261.5,530.3 261.7,521.6 261.8,531.3 262.0,530.4 262.1,525.8 262.3,534.5 262.4,529.2 262.6,527.8 262.7,531.6 262.9,528.4 263.0,529.5 263.2,526.8 263.3,523.7 263.5,527.6 263.6,526.7 263.8,527.9 263.9,528.1 264.1,532.0 264.2,527.7 264.4,530.6 264.5,528.0 264.7,530.3 264.8,529.6 265.0,531.9 265.1,532.8 265.3,536.0 265.4,534.3 265.6,531.7 265.7,531.0 265.9,539.8 266.0,538.3 266.2,536.6 266.3,538.2 266.5,535.8 266.6,535.0 266.8,536.1 266.9,534.9 267.1,532.2 267.2,531.6 267.4,531.6 267.5,537.8 267.7,536.1 267.8,537.6 268.0,534.3 268.1,538.1 268.3,533.1 268.5,533.0 268.6,528.4 268.8,525.0 268.9,515.9 269.1,512.0 269.2,502.0 269.4,492.9 269.5,482.2 269.7,474.4 269.8,468.1 270.0,463.9 270.1,462.2 270.3,464.5 270.4,470.2 270.6,476.8 270.7,486.1 270.9,495.6 271.0,506.0 271.2,512.1 271.3,519.1 271.5,526.8 271.6,532.2 271.8,534.3 271.9,539.8 272.1,539.4 272.2,542.4 272.4,539.0 272.5,543.9 272.7,543.9 272.8,535.5 273.0,541.9 273.1,545.9 273.3,535.5 273.4,543.4 273.6,540.5 273.7,547.6 273.9,546.5 274.0,545.5 274.2,543.5 274.3,544.7 274.5,546.1 274.6,548.4 274.8,546.5 274.9,549.9 275.1,543.0 275.3,546.3 275.4,549.4 275.6,548.6 275.7,545.0 275.9,544.2 276.0,541.2 276.2,548.0 276.3,545.1 276.5,542.7 276.6,543.9 276.8,551.5 276.9,554.1 277.1,543.7 277.2,544.7 277.4,550.3 277.5,549.5 277.7,548.8 277.8,548.6 278.0,547.2 278.1,550.1 278.3,550.7 278.4,549.8 278.6,546.5 278.7,550.2 278.9,552.2 279.0,542.3 279.2,543.2 279.3,548.3 279.5,550.0 279.6,543.8 279.8,550.5 279.9,550.4 280.1,547.1 280.2,550.9 280.4,550.3 280.5,548.5 280.7,550.2 280.8,550.6 281.0,547.8 281.1,553.7 281.3,549.0 281.4,547.4 281.6,546.4 281.7,550.5 281.9,549.0 282.0,548.5 282.2,555.1 282.4,556.0 282.5,555.4 282.7,546.4 282.8,554.3 283.0,550.6 283.1,548.7 283.3,550.8 283.4,556.4 283.6,552.2 283.7,556.3 283.9,547.0 284.0,552.1 284.2,556.1 284.3,554.0 284.5,550.8 284.6,558.0 284.8,547.6 284.9,550.4 285.1,554.2 285.2,547.9 285.4,551.4 285.5,557.8 285.7,552.2 285.8,560.2 286.0,551.1 286.1,556.3 286.3,554.4 286.4,551.7 286.6,553.1 286.7,552.6 286.9,555.4 287.0,549.9 287.2,547.5 287.3,545.8 287.5,553.2 287.6,558.9 287.8,548.2 287.9,553.5 288.1,550.8 288.2,554.0 288.4,554.8 288.5,554.6 288.7,556.8 288.8,555.9 289.0,553.4 289.2,556.1 289.3,556.3 289.5,553.8 289.6,552.9 289.8,556.7 289.9,557.4 290.1,556.9 290.2,551.8 290.4,554.8 290.5,554.5 290.7,558.4 290.8,548.2 291.0,552.3 291.1,555.5 291.3,550.7 291.4,554.4 291.6,554.7 291.7,554.3 291.9,557.9 292.0,556.8 292.2,554.3 292.3,555.4 292.5,552.0 292.6,553.4 292.8,555.8 292.9,554.6 293.1,561.1 293.2,558.5 293.4,556.9 293.5,555.5 293.7,558.5 293.8,562.9 294.0,555.7 294.1,554.7 294.3,558.7 294.4,553.7 294.6,557.4 294.7,562.8 294.9,561.3 295.0,556.8 295.2,556.1 295.3,557.2 295.5,558.5 295.6,560.2 295.8,559.0 295.9,558.6 296.1,555.1 296.3,558.2 296.4,553.9 296.6,559.2 296.7,558.3 296.9,555.9 297.0,561.1 297.2,561.4 297.3,559.7 297.5,558.2 297.6,559.1 297.8,560.8 297.9,554.8 298.1,562.9 298.2,560.1 298.4,556.6 298.5,566.1 298.7,562.5 298.8,564.8 299.0,561.1 299.1,561.4 299.3,569.2 299.4,561.1 299.6,563.1 299.7,566.0 299.9,558.6 300.0,558.9 300.2,559.2 300.3,557.1 300.5,561.4 300.6,557.3 300.8,561.0 300.9,559.5 301.1,563.1 301.2,559.3 301.4,557.8 301.5,554.5 301.7,566.3 301.8,557.8 302.0,564.2 302.1,558.7 302.3,557.4 302.4,559.4 302.6,554.5 302.7,554.9 302.9,551.2 303.1,548.8 303.2,544.6 303.4,543.2 303.5,537.9 303.7,535.2 303.8,531.9 304.0,529.4 304.1,530.2 304.3,530.1 304.4,530.0 304.6,533.8 304.7,534.1 304.9,539.2 305.0,542.1 305.2,547.4 305.3,551.0 305.5,550.7 305.6,558.7 305.8,554.1 305.9,557.9 306.1,563.7 306.2,557.4 306.4,568.1 306.5,562.8 306.7,562.7 306.8,564.3 307.0,560.4 307.1,560.3 307.3,562.2 307.4,560.5 307.6,567.5 307.7,561.3 307.9,563.7 308.0,561.4 308.2,561.0 308.3,565.7 308.5,562.7 308.6,559.8 308.8,564.2 308.9,560.4 309.1,565.2 309.2,566.3 309.4,561.1 309.5,572.6 309.7,566.9 309.8,556.9 310.0,563.6 310.2,564.7 310.3,563.2 310.5,565.6 310.6,565.6 310.8,568.8 310.9,563.3 311.1,561.3 311.2,568.0 311.4,561.5 311.5,564.5 311.7,564.3 311.8,561.3 312.0,559.2 312.1,564.2 312.3,566.9 312.4,563.7 312.6,562.6 312.7,565.4 312.9,567.3 313.0,557.7 313.2,564.9 313.3,573.5 313.5,565.7 313.6,565.5 313.8,559.7 313.9,566.0 314.1,569.5 314.2,569.9 314.4,561.8 314.5,563.2 314.7,566.6 314.8,567.0 315.0,570.1 315.1,575.6 315.3,572.7 315.4,564.9 315.6,568.0 315.7,566.0 315.9,566.9 316.0,571.1 316.2,571.1 316.3,570.9 316.5,564.4 316.6,570.2 316.8,568.6 317.0,561.6 317.1,566.3 317.3,570.1 317.4,565.9 317.6,567.6 317.7,559.6 317.9,565.4 318.0,565.0 318.2,563.5 318.3,564.9 318.5,568.5 318.6,566.5 318.8,563.8 318.9,564.9 319.1,571.4 319.2,565.5 319.4,568.1 319.5,575.2 319.7,571.3 319.8,570.9 320.0,569.3 320.1,565.4 320.3,564.9 320.4,569.6 320.6,564.9 320.7,565.5 320.9,570.3 321.0,568.2 321.2,564.1 321.3,564.9 321.5,569.1 321.6,565.0 321.8,566.9 321.9,564.7 322.1,565.8 322.2,566.0 322.4,566.5 322.5,566.4 322.7,561.5 322.8,563.9 323.0,568.3 323.1,561.4 323.3,564.6 323.4,569.8 323.6,570.3 323.7,566.9 323.9,570.0 324.1,561.4 324.2,565.9 324.4,573.4 324.5,570.2 324.7,568.6 324.8,570.3 325.0,572.8 325.1,567.8 325.3,566.1 325.4,563.6 325.6,569.1 325.7,570.4 325.9,571.6 326.0,570.7 326.2,570.2 326.3,566.0 326.5,567.2 326.6,569.8 326.8,568.8 326.9,571.8 327.1,561.2 327.2,573.7 327.4,569.8 327.5,567.5 327.7,568.2 327.8,570.8 328.0,570.2 328.1,571.4 328.3,570.2 328.4,571.7 328.6,574.7 328.7,574.1 328.9,574.1 329.0,570.0 329.2,568.6 329.3,573.8 329.5,568.8 329.6,569.1 329.8,574.0 329.9,569.7 330.1,570.8 330.2,575.0 330.4,574.4 330.5,573.7 330.7,569.3 330.9,567.5 331.0,572.8 331.2,573.6 331.3,570.0 331.5,568.1 331.6,574.7 331.8,571.8 331.9,576.8 332.1,576.2 332.2,572.0 332.4,573.0 332.5,565.9 332.7,566.6 332.8,573.6 333.0,563.4 333.1,577.5 333.3,571.8 333.4,571.3 333.6,571.9 333.7,569.8 333.9,573.7 334.0,572.7 334.2,575.0 334.3,578.3 334.5,572.2 334.6,575.8 334.8,564.9 334.9,574.7 335.1,569.1 335.2,575.3 335.4,575.8 335.5,579.3 335.7,574.5 335.8,575.5 336.0,575.6 336.1,574.9 336.3,576.2 336.4,575.4 336.6,568.8 336.7,570.9 336.9,572.1 337.0,572.4 337.2,575.9 337.3,581.8 337.5,573.7 337.6,575.4 337.8,574.1 338.0,573.3 338.1,577.6 338.3,577.1 338.4,571.9 338.6,570.9 338.7,572.0 338.9,572.7 339.0,572.7 339.2,574.0 339.3,571.5 339.5,572.5 339.6,567.8 339.8,575.9 339.9,579.0 340.1,576.0 340.2,571.7 340.4,574.6 340.5,573.8 340.7,572.4 340.8,575.1 341.0,573.5 341.1,570.7 341.3,574.4 341.4,569.9 341.6,575.2 341.7,577.1 341.9,577.0 342.0,574.1 342.2,575.4 342.3,575.2 342.5,576.4 342.6,574.9 342.8,571.8 342.9,568.7 343.1,571.6 343.2,578.3 343.4,577.1 343.5,568.1 343.7,580.6 343.8,577.1 344.0,578.1 344.1,578.9 344.3,574.5 344.4,577.4 344.6,573.7 344.8,573.7 344.9,578.7 345.1,580.6 345.2,576.6 345.4,576.9 345.5,573.5 345.7,571.8 345.8,569.8 346.0,574.4 346.1,576.9 346.3,573.9 346.4,575.2 346.6,575.1 346.7,575.6 346.9,576.3 347.0,574.2 347.2,575.3 347.3,573.1 347.5,571.9 347.6,581.9 347.8,578.7 347.9,572.8 348.1,578.7 348.2,578.0 348.4,570.0 348.5,567.1 348.7,575.3 348.8,583.3 349.0,576.2 349.1,574.2 349.3,577.4 349.4,574.8 349.6,573.8 349.7,579.7 349.9,577.5 350.0,577.7 350.2,580.5 350.3,575.1 350.5,576.4 350.6,573.4 350.8,581.9 350.9,578.3 351.1,573.9 351.2,573.7 351.4,576.9 351.5,576.8 351.7,578.0 351.9,577.3 352.0,572.6 352.2,575.1 352.3,577.3 352.5,572.7 352.6,570.4 352.8,573.4 352.9,579.3 353.1,573.6 353.2,578.8 353.4,577.9 353.5,579.9 353.7,576.0 353.8,577.0 354.0,579.6 354.1,575.1 354.3,579.9 354.4,575.7 354.6,575.9 354.7,575.3 354.9,576.3 355.0,571.6 355.2,569.7 355.3,566.0 355.5,563.1 355.6,561.7 355.8,558.6 355.9,555.0 356.1,552.7 356.2,552.2 356.4,550.1 356.5,550.2 356.7,551.0 356.8,551.8 357.0,555.7 357.1,556.9 357.3,559.3 357.4,561.9 357.6,564.3 357.7,568.1 357.9,570.9 358.0,573.8 358.2,574.3 358.3,575.7 358.5,576.4 358.7,578.5 358.8,578.8 359.0,574.4 359.1,578.3 359.3,576.9 359.4,582.5 359.6,579.2 359.7,579.3 359.9,569.8 360.0,582.1 360.2,576.9 360.3,576.2 360.5,571.9 360.6,575.3 360.8,577.5 360.9,583.4 361.1,576.4 361.2,579.9 361.4,581.6 361.5,578.0 361.7,576.7 361.8,578.3 362.0,581.7 362.1,578.7 362.3,579.4 362.4,575.9 362.6,578.7 362.7,579.1 362.9,582.1 363.0,573.7 363.2,578.1 363.3,570.8 363.5,581.9 363.6,575.7 363.8,579.0 363.9,580.7 364.1,581.2 364.2,577.9 364.4,574.6 364.5,579.5 364.7,577.5 364.8,579.0 365.0,580.9 365.1,585.3 365.3,579.4 365.4,579.3 365.6,584.6 365.8,580.8 365.9,579.5 366.1,580.7 366.2,574.0 366.4,576.9 366.5,581.0 366.7,575.7 366.8,580.9 367.0,581.1 367.1,570.6 367.3,580.7 367.4,577.1 367.6,579.3 367.7,574.5 367.9,576.0 368.0,580.5 368.2,581.0 368.3,574.3 368.5,575.5 368.6,569.7 368.8,579.1 368.9,575.7 369.1,576.5 369.2,575.9 369.4,581.1 369.5,574.8 369.7,573.2 369.8,574.7 370.0,575.5 370.1,581.5 370.3,582.4 370.4,581.6 370.6,576.6 370.7,580.8 370.9,585.1 371.0,583.1 371.2,586.8 371.3,577.2 371.5,577.8 371.6,580.5 371.8,579.0 371.9,577.1 372.1,580.4 372.2,584.9 372.4,578.8 372.6,574.1 372.7,576.2 372.9,580.6 373.0,576.2 373.2,577.6 373.3,578.3 373.5,581.4 373.6,583.8 373.8,580.5 373.9,581.6 374.1,581.5 374.2,583.5 374.4,581.0 374.5,579.3 374.7,580.5 374.8,580.5 375.0,580.9 375.1,579.0 375.3,581.9 375.4,579.4 375.6,576.7 375.7,579.2 375.9,576.4 376.0,573.7 376.2,575.6 376.3,572.6 376.5,573.3 376.6,572.5 376.8,572.8 376.9,571.9 377.1,573.5 377.2,573.0 377.4,573.5 377.5,575.3 377.7,574.7 377.8,577.0 378.0,576.1 378.1,577.4 378.3,577.4 378.4,578.8 378.6,578.5 378.7,583.5 378.9,583.2 379.0,583.2 379.2,586.0 379.3,582.2 379.5,584.2 379.7,585.5 379.8,584.3 380.0,582.3 380.1,585.2 380.3,587.5 380.4,589.5 380.6,586.3 380.7,583.6 380.9,593.4 381.0,584.6 381.2,586.0 381.3,586.0 381.5,585.5 381.6,586.5 381.8,584.3 381.9,587.1 382.1,581.6 382.2,584.2 382.4,581.7 382.5,584.6 382.7,585.6 382.8,586.4 383.0,586.1 383.1,589.4 383.3,583.9 383.4,585.3 383.6,590.7 383.7,588.6 383.9,586.0 384.0,583.1 384.2,586.7 384.3,582.4 384.5,583.0 384.6,582.3 384.8,585.3 384.9,587.4 385.1,587.6 385.2,588.7 385.4,588.3 385.5,585.5 385.7,585.9 385.8,591.1 386.0,584.8 386.1,591.4 386.3,591.3 386.5,591.3 386.6,584.0 386.8,591.2 386.9,586.1 387.1,586.5 387.2,584.9 387.4,588.3 387.5,588.2 387.7,585.9 387.8,588.6 388.0,586.4 388.1,590.7 388.3,583.4 388.4,583.4 388.6,584.0 388.7,588.8 388.9,588.5 389.0,588.6 389.2,593.2 389.3,587.0 389.5,584.9 389.6,584.3 389.8,583.4 389.9,589.5 390.1,589.8 390.2,587.5 390.4,586.4 390.5,588.0 390.7,587.7 390.8,592.2 391.0,588.3 391.1,590.3 391.3,583.4 391.4,588.9 391.6,579.8 391.7,589.1 391.9,584.1 392.0,588.9 392.2,588.6 392.3,585.8 392.5,585.5 392.6,581.8 392.8,583.3 392.9,584.8 393.1,586.9 393.2,584.4 393.4,589.5 393.6,583.7 393.7,582.3 393.9,581.4 394.0,577.1 394.2,584.9 394.3,583.2 394.5,581.3 394.6,586.3 394.8,588.6 394.9,581.0 395.1,586.8 395.2,584.9 395.4,586.2 395.5,587.0 395.7,578.7 395.8,590.7 396.0,587.9 396.1,584.9 396.3,585.7 396.4,586.6 396.6,586.3 396.7,587.3 396.9,585.3 397.0,586.6 397.2,584.5 397.3,584.3 397.5,584.5 397.6,584.9 397.8,588.5 397.9,589.7 398.1,585.6 398.2,589.4 398.4,584.7 398.5,588.5 398.7,584.0 398.8,587.7 399.0,582.3 399.1,583.2 399.3,589.9 399.4,582.3 399.6,588.8 399.7,580.7 399.9,580.3 400.0,577.7 400.2,583.9 400.4,587.8 400.5,586.6 400.7,585.5 400.8,584.1 401.0,586.3 401.1,587.6 401.3,588.7 401.4,585.6 401.6,591.0 401.7,588.7 401.9,587.5 402.0,586.8 402.2,591.1 402.3,591.9 402.5,585.7 402.6,590.4 402.8,584.6 402.9,587.6 403.1,587.7 403.2,591.9 403.4,581.0 403.5,593.3 403.7,587.6 403.8,588.3 404.0,588.4 404.1,587.8 404.3,590.7 404.4,589.0 404.6,587.1 404.7,586.5 404.9,585.6 405.0,588.0 405.2,590.0 405.3,588.6 405.5,590.2 405.6,593.0 405.8,580.5 405.9,587.2 406.1,589.4 406.2,588.5 406.4,588.6 406.5,585.8 406.7,588.7 406.8,584.9 407.0,584.3 407.1,584.0 407.3,582.8 407.5,584.8 407.6,581.0 407.8,586.5 407.9,591.7 408.1,588.6 408.2,588.2 408.4,585.3 408.5,586.2 408.7,589.3 408.8,586.8 409.0,593.8 409.1,583.8 409.3,586.5 409.4,590.2 409.6,588.8 409.7,590.8 409.9,585.9 410.0,586.2 410.2,585.7 410.3,583.0 410.5,582.6 410.6,579.3 410.8,586.4 410.9,586.3 411.1,588.3 411.2,588.1 411.4,586.5 411.5,590.2 411.7,591.2 411.8,580.4 412.0,581.1 412.1,588.9 412.3,594.1 412.4,587.8 412.6,588.7 412.7,589.5 412.9,590.0 413.0,589.4 413.2,584.9 413.3,585.1 413.5,581.1 413.6,583.7 413.8,583.2 413.9,587.2 414.1,581.9 414.3,587.4 414.4,586.8 414.6,586.9 414.7,585.8 414.9,584.5 415.0,590.9 415.2,590.3 415.3,582.2 415.5,585.5 415.6,587.9 415.8,589.6 415.9,585.9 416.1,591.4 416.2,587.7 416.4,589.5 416.5,585.6 416.7,589.3 416.8,585.8 417.0,580.7 417.1,586.2 417.3,589.6 417.4,592.9 417.6,590.7 417.7,583.5 417.9,588.0 418.0,589.0 418.2,583.0 418.3,594.0 418.5,579.4 418.6,588.4 418.8,583.5 418.9,588.1 419.1,585.1 419.2,584.7 419.4,591.8 419.5,585.9 419.7,589.4 419.8,588.1 420.0,585.1 420.1,588.0 420.3,592.0 420.4,586.5 420.6,584.6 420.7,590.0 420.9,586.8 421.0,588.8 421.2,579.7 421.4,587.0 421.5,581.3 421.7,582.4 421.8,589.6 422.0,582.1 422.1,588.7 422.3,585.7 422.4,589.1 422.6,585.6 422.7,584.0 422.9,587.0 423.0,581.8 423.2,583.4 423.3,585.7 423.5,591.1 423.6,584.6 423.8,585.0 423.9,583.1 424.1,584.8 424.2,583.3 424.4,584.5 424.5,584.5 424.7,595.0 424.8,586.8 425.0,587.9 425.1,585.1 425.3,589.5 425.4,587.6 425.6,584.6 425.7,587.1 425.9,586.5 426.0,581.9 426.2,586.5 426.3,585.6 426.5,585.9 426.6,589.1 426.8,589.1 426.9,586.2 427.1,587.8 427.2,586.3 427.4,587.3 427.5,585.6 427.7,579.6 427.8,593.8 428.0,586.5 428.2,577.7 428.3,587.4 428.5,586.1 428.6,587.1 428.8,579.9 428.9,586.6 429.1,590.2 429.2,589.2 429.4,589.1 429.5,588.4 429.7,585.8 429.8,590.8 430.0,583.4 430.1,587.1 430.3,587.0 430.4,587.8 430.6,585.6 430.7,586.9 430.9,591.3 431.0,588.0 431.2,580.4 431.3,587.0 431.5,590.2 431.6,589.3 431.8,589.0 431.9,588.1 432.1,588.3 432.2,589.3 432.4,589.6 432.5,582.4 432.7,582.4 432.8,595.0 433.0,582.3 433.1,585.0 433.3,590.8 433.4,582.6 433.6,587.2 433.7,581.1 433.9,586.5 434.0,581.1 434.2,583.5 434.3,586.7 434.5,588.6 434.6,587.8 434.8,588.0 434.9,588.7 435.1,584.6 435.3,583.9 435.4,587.3 435.6,584.7 435.7,586.6 435.9,591.9 436.0,584.0 436.2,581.9 436.3,578.8 436.5,589.5 436.6,585.9 436.8,582.0 436.9,589.6 437.1,582.4 437.2,586.9 437.4,586.0 437.5,588.2 437.7,584.2 437.8,581.1 438.0,583.7 438.1,582.1 438.3,592.4 438.4,590.2 438.6,587.1 438.7,584.7 438.9,588.1 439.0,588.6 439.2,589.4 439.3,580.5 439.5,588.4 439.6,589.9 439.8,593.8 439.9,595.0 440.1,589.6 440.2,580.9 440.4,586.5 440.5,590.4 440.7,583.1 440.8,589.8 441.0,585.2 441.1,591.9 441.3,588.5 441.4,591.8 441.6,592.6 441.7,592.9 441.9,589.4 442.1,587.8 442.2,588.9 442.4,590.4 442.5,593.4 442.7,589.2 442.8,588.2 443.0,583.2 443.1,587.2 443.3,585.2 443.4,582.1 443.6,583.7 443.7,585.0 443.9,583.1 444.0,581.3 444.2,581.0 444.3,579.0 444.5,580.3 444.6,576.4 444.8,577.1 444.9,577.8 445.1,575.8 445.2,577.1 445.4,577.7 445.5,579.0 445.7,580.0 445.8,581.2 446.0,582.5 446.1,584.3 446.3,580.6 446.4,585.6 446.6,584.3 446.7,583.7 446.9,589.7 447.0,587.1 447.2,590.1 447.3,588.8 447.5,589.8 447.6,590.7 447.8,588.8 447.9,587.9 448.1,591.2 448.2,586.3 448.4,589.4 448.5,591.2 448.7,590.5 448.8,593.7 449.0,589.8 449.2,592.6 449.3,590.3 449.5,590.6 449.6,588.6 449.8,593.6 449.9,592.2 450.1,587.0 450.2,584.9 450.4,591.8 450.5,582.8 450.7,588.0 450.8,588.8 451.0,590.8 451.1,590.5 451.3,587.8 451.4,593.5 451.6,590.2 451.7,594.0 451.9,591.8 452.0,592.1 452.2,593.9 452.3,587.7 452.5,593.3 452.6,590.0 452.8,588.2 452.9,590.4 453.1,591.5 453.2,583.5 453.4,589.7 453.5,590.6 453.7,589.6 453.8,586.6 454.0,589.4 454.1,596.0 454.3,598.5 454.4,587.8 454.6,587.4 454.7,589.3 454.9,590.3 455.0,593.0 455.2,597.6 455.3,590.7 455.5,588.9 455.6,587.5 455.8,590.2 456.0,599.5 456.1,591.2 456.3,591.9 456.4,586.2 456.6,593.8 456.7,591.0 456.9,597.7 457.0,589.2 457.2,590.5 457.3,591.7 457.5,589.7 457.6,592.5 457.8,588.4 457.9,591.3 458.1,585.7 458.2,591.8 458.4,590.6 458.5,593.2 458.7,588.1 458.8,588.7 459.0,594.6 459.1,586.7 459.3,589.1 459.4,588.9 459.6,589.7 459.7,595.2 459.9,591.8 460.0,591.3 460.2,592.6 460.3,591.9 460.5,591.4 460.6,589.7 460.8,592.8 460.9,581.9 461.1,589.4 461.2,590.8 461.4,590.4 461.5,588.8 461.7,590.5 461.8,592.9 462.0,594.5 462.1,588.4 462.3,594.5 462.4,591.5 462.6,592.6 462.8,592.8 462.9,594.9 463.1,589.8 463.2,590.8 463.4,600.3 463.5,590.7 463.7,592.8 463.8,591.3 464.0,593.8 464.1,595.1 464.3,593.0 464.4,593.7 464.6,592.1 464.7,591.5 464.9,589.8 465.0,591.4 465.2,594.7 465.3,594.9 465.5,596.8 465.6,590.2 465.8,595.3 465.9,593.1 466.1,589.7 466.2,584.4 466.4,593.6 466.5,589.5 466.7,590.5 466.8,591.2 467.0,590.8 467.1,586.7 467.3,592.7 467.4,593.1 467.6,594.5 467.7,591.3 467.9,594.4 468.0,589.8 468.2,587.9 468.3,587.1 468.5,596.6 468.6,589.5 468.8,591.1 468.9,592.5 469.1,590.3 469.2,587.0 469.4,599.3 469.5,593.3 469.7,595.4 469.9,593.9 470.0,589.8 470.2,590.0 470.3,594.3 470.5,595.1 470.6,589.9 470.8,594.8 470.9,591.7 471.1,588.8 471.2,591.5 471.4,596.3 471.5,594.7 471.7,597.1 471.8,598.6 472.0,597.7 472.1,593.6 472.3,592.6 472.4,586.7 472.6,591.8 472.7,596.0 472.9,586.2 473.0,591.8 473.2,594.1 473.3,590.6 473.5,592.8 473.6,591.8 473.8,590.7 473.9,590.7 474.1,593.8 474.2,594.4 474.4,596.7 474.5,587.5 474.7,591.7 474.8,591.8 475.0,593.8 475.1,594.8 475.3,590.8 475.4,589.7 475.6,590.0 475.7,589.8 475.9,590.2 476.0,592.2 476.2,587.7 476.3,589.3 476.5,585.7 476.7,583.4 476.8,583.9 477.0,584.6 477.1,581.5 477.3,583.0 477.4,576.4 477.6,576.8 477.7,574.4 477.9,572.8 478.0,572.3 478.2,571.2 478.3,570.6 478.5,568.9 478.6,569.2 478.8,570.2 478.9,570.2 479.1,570.9 479.2,572.2 479.4,572.8 479.5,576.0 479.7,578.0 479.8,578.2 480.0,580.7 480.1,582.0 480.3,583.7 480.4,584.4 480.6,584.7 480.7,586.6 480.9,588.4 481.0,591.8 481.2,590.3 481.3,591.9 481.5,593.0 481.6,593.1 481.8,588.4 481.9,592.9 482.1,593.4 482.2,593.0 482.4,594.0 482.5,593.6 482.7,593.6 482.8,590.9 483.0,594.9 483.1,590.9 483.3,592.2 483.4,594.4 483.6,596.3 483.8,594.0 483.9,591.7 484.1,592.7 484.2,584.0 484.4,598.2 484.5,590.6 484.7,592.4 484.8,589.3 485.0,594.6 485.1,589.7 485.3,594.5 485.4,591.2 485.6,593.3 485.7,596.9 485.9,593.7 486.0,593.6 486.2,589.5 486.3,596.6 486.5,593.8 486.6,589.6 486.8,594.2 486.9,592.4 487.1,590.1 487.2,594.9 487.4,597.7 487.5,590.0 487.7,591.2 487.8,595.9 488.0,589.8 488.1,589.8 488.3,590.9 488.4,589.3 488.6,589.3 488.7,590.8 488.9,587.7 489.0,586.5 489.2,589.2 489.3,594.4 489.5,591.5 489.6,590.5 489.8,585.8 489.9,594.3 490.1,591.6 490.2,590.4 490.4,587.9 490.6,589.9 490.7,585.7 490.9,592.2 491.0,592.8 491.2,592.7 491.3,590.4 491.5,596.1 491.6,584.0 491.8,586.1 491.9,591.6 492.1,589.6 492.2,593.3 492.4,590.1 492.5,588.4 492.7,593.0 492.8,591.8 493.0,591.2 493.1,593.2 493.3,591.9 493.4,588.5 493.6,599.3 493.7,583.8 493.9,589.9 494.0,594.1 494.2,591.1 494.3,592.3 494.5,590.6 494.6,595.9 494.8,590.8 494.9,595.5 495.1,595.7 495.2,594.7 495.4,590.6 495.5,591.8 495.7,595.1 495.8,592.0 496.0,592.9 496.1,592.1 496.3,584.9 496.4,592.8 496.6,597.1 496.7,589.7 496.9,595.4 497.0,591.5 497.2,589.8 497.3,589.7 497.5,598.9 497.7,591.5 497.8,589.5 498.0,594.7 498.1,584.5 498.3,592.6 498.4,588.9 498.6,592.2 498.7,590.5 498.9,588.6 499.0,586.6 499.2,597.2 499.3,591.3 499.5,588.3 499.6,589.1 499.8,586.1 499.9,588.2 500.1,593.1 500.2,595.0 500.4,588.4 500.5,599.0 500.7,590.4 500.8,598.8 501.0,593.0 501.1,593.6 501.3,595.6 501.4,590.1 501.6,596.2 501.7,591.2 501.9,593.1 502.0,597.2 502.2,585.6 502.3,589.6 502.5,593.2 502.6,589.7 502.8,590.3 502.9,598.7 503.1,588.7 503.2,587.8 503.4,591.4 503.5,594.2 503.7,590.2 503.8,595.2 504.0,591.0 504.1,588.3 504.3,589.6 504.5,594.0 504.6,596.4 504.8,589.9 504.9,590.0 505.1,590.3 505.2,587.1 505.4,588.0 505.5,595.5 505.7,589.7 505.8,590.9 506.0,598.0 506.1,601.2 506.3,594.4 506.4,597.1 506.6,590.6 506.7,594.3 506.9,595.0 507.0,587.3 507.2,596.5 507.3,591.4 507.5,591.9 507.6,596.4 507.8,594.9 507.9,591.2 508.1,588.0 508.2,594.3 508.4,590.1 508.5,594.8 508.7,593.8 508.8,589.7 509.0,586.7 509.1,591.0 509.3,586.3 509.4,592.6 509.6,592.2 509.7,598.0 509.9,590.0 510.0,594.3 510.2,597.9 510.3,595.2 510.5,588.7 510.6,598.9 510.8,590.3 510.9,597.2 511.1,595.5 511.2,597.5 511.4,589.2 511.6,597.1 511.7,603.3 511.9,596.2 512.0,593.9 512.2,598.9 512.3,592.9 512.5,595.3 512.6,597.1 512.8,595.1 512.9,597.1 513.1,597.8 513.2,595.8 513.4,596.2 513.5,596.4 513.7,597.1 513.8,595.7 514.0,596.7 514.1,588.8 514.3,600.1 514.4,593.4 514.6,595.5 514.7,597.0 514.9,589.3 515.0,594.5 515.2,597.1 515.3,598.3 515.5,598.8 515.6,595.6 515.8,595.3 515.9,599.4 516.1,594.5 516.2,596.8 516.4,594.4 516.5,594.9 516.7,602.5 516.8,593.1 517.0,597.9 517.1,594.2 517.3,596.9 517.4,596.7 517.6,594.0 517.7,598.4 517.9,605.4 518.0,596.0 518.2,598.4 518.4,598.0 518.5,601.4 518.7,592.2 518.8,596.9 519.0,594.0 519.1,594.4 519.3,596.3 519.4,599.1 519.6,594.0 519.7,597.2 519.9,596.2 520.0,594.5 520.2,599.7 520.3,595.7 520.5,596.3 520.6,588.8 520.8,598.2 520.9,599.7 521.1,594.2 521.2,598.2 521.4,595.1 521.5,595.5 521.7,595.6 521.8,594.2 522.0,595.9 522.1,599.2 522.3,590.2 522.4,594.3 522.6,591.7 522.7,595.7 522.9,591.3 523.0,592.0 523.2,595.4 523.3,595.1 523.5,603.4 523.6,590.7 523.8,596.5 523.9,597.1 524.1,596.7 524.2,597.5 524.4,593.0 524.5,592.3 524.7,600.6 524.8,591.8 525.0,596.3 525.1,599.0 525.3,592.9 525.5,600.9 525.6,592.5 525.8,593.3 525.9,599.0 526.1,595.3 526.2,596.3 526.4,597.1 526.5,603.9 526.7,596.1 526.8,593.1 527.0,595.3 527.1,596.5 527.3,603.0 527.4,598.0 527.6,592.6 527.7,598.4 527.9,592.8 528.0,593.2 528.2,599.8 528.3,593.5 528.5,598.1 528.6,600.0 528.8,598.2 528.9,597.6 529.1,595.5 529.2,598.9 529.4,599.1 529.5,597.8 529.7,594.0 529.8,597.9 530.0,599.0 530.1,594.5 530.3,595.6 530.4,589.5 530.6,597.6 530.7,599.5 530.9,598.1 531.0,598.0 531.2,595.8 531.3,596.3 531.5,595.8 531.6,596.5 531.8,595.2 531.9,598.0 532.1,593.1 532.3,589.3 532.4,596.9 532.6,600.1 532.7,594.6 532.9,592.2 533.0,595.1 533.2,598.1 533.3,600.1 533.5,594.7 533.6,594.9 533.8,594.0 533.9,601.6 534.1,598.2 534.2,602.3 534.4,598.2 534.5,596.0 534.7,597.7 534.8,598.8 535.0,599.1 535.1,597.2 535.3,598.5 535.4,590.7 535.6,599.2 535.7,599.6 535.9,595.0 536.0,594.2 536.2,601.7 536.3,600.3 536.5,594.3 536.6,593.7 536.8,596.0 536.9,598.3 537.1,599.3 537.2,595.2 537.4,595.3 537.5,600.8 537.7,591.2 537.8,599.8 538.0,597.0 538.1,597.3 538.3,599.7 538.4,597.7 538.6,600.0 538.7,591.6 538.9,595.3 539.0,596.9 539.2,597.9 539.4,600.8 539.5,598.6 539.7,594.9 539.8,596.9 540.0,598.2 540.1,595.0 540.3,596.6 540.4,597.9 540.6,594.5 540.7,594.2 540.9,594.1 541.0,592.6 541.2,594.0 541.3,592.5 541.5,592.4 541.6,591.3 541.8,590.6 541.9,591.9 542.1,592.4 542.2,592.8 542.4,592.5 542.5,590.8 542.7,592.4 542.8,593.2 543.0,593.0 543.1,593.8 543.3,594.3 543.4,593.8 543.6,596.5 543.7,597.1 543.9,594.9 544.0,600.6 544.2,595.1 544.3,593.0 544.5,595.9 544.6,597.0 544.8,594.1 544.9,598.8 545.1,595.6 545.2,598.5 545.4,600.1 545.5,598.9 545.7,597.8 545.8,600.6 546.0,598.5 546.2,596.9 546.3,599.8 546.5,602.1 546.6,600.8 546.8,596.2 546.9,602.5 547.1,596.4 547.2,600.8 547.4,596.0 547.5,600.8 547.7,600.5 547.8,601.8 548.0,602.1 548.1,598.6 548.3,598.3 548.4,599.1 548.6,597.4 548.7,600.6 548.9,600.6 549.0,598.5 549.2,599.4 549.3,606.3 549.5,594.4 549.6,599.4 549.8,601.8 549.9,598.4 550.1,600.3 550.2,599.7 550.4,604.2 550.5,604.3 550.7,598.0 550.8,601.1 551.0,595.9 551.1,597.5 551.3,607.8 551.4,605.4 551.6,596.3 551.7,605.4 551.9,599.8 552.0,604.7 552.2,599.1 552.3,602.3 552.5,605.1 552.6,598.0 552.8,600.5 552.9,597.2 553.1,596.3 553.3,604.0 553.4,599.8 553.6,598.6 553.7,597.3 553.9,600.2 554.0,602.8 554.2,600.8 554.3,600.5 554.5,596.3 554.6,600.6 554.8,603.5 554.9,598.6 555.1,601.3 555.2,601.5 555.4,599.3 555.5,604.2 555.7,605.6 555.8,596.7 556.0,593.5 556.1,601.0 556.3,599.8 556.4,601.3 556.6,605.1 556.7,601.1 556.9,604.2 557.0,602.4 557.2,599.5 557.3,596.2 557.5,604.3 557.6,600.7 557.8,601.3 557.9,602.0 558.1,597.1 558.2,599.9 558.4,596.7 558.5,596.4 558.7,596.8 558.8,598.6 559.0,595.0 559.1,592.9 559.3,590.7 559.4,591.7 559.6,589.3 559.7,588.8 559.9,588.5 560.1,588.5 560.2,589.2 560.4,589.8 560.5,591.6 560.7,591.1 560.8,592.8 561.0,594.8 561.1,594.5 561.3,597.1 561.4,596.9 561.6,602.0 561.7,598.9 561.9,599.0 562.0,606.1 562.2,603.3 562.3,601.7 562.5,601.2 562.6,601.5 562.8,605.1 562.9,596.7 563.1,606.3 563.2,603.1 563.4,599.3 563.5,604.6 563.7,599.7 563.8,600.3 564.0,604.2 564.1,605.3 564.3,606.5 564.4,605.1 564.6,605.2 564.7,604.1 564.9,611.1 565.0,602.2 565.2,602.1 565.3,608.5 565.5,603.7 565.6,602.5 565.8,600.9 565.9,604.5 566.1,599.7 566.2,602.5 566.4,606.0 566.5,595.5 566.7,601.0 566.8,605.2 567.0,608.6 567.2,603.0 567.3,600.3 567.5,605.1 567.6,604.7 567.8,603.3 567.9,604.3 568.1,603.4 568.2,609.9 568.4,606.0 568.5,608.1 568.7,599.3 568.8,601.2 569.0,605.3 569.1,603.0 569.3,604.1 569.4,601.6 569.6,602.3 569.7,604.8 569.9,598.2 570.0,601.6 570.2,604.1 570.3,604.6 570.5,601.8 570.6,603.8 570.8,603.1 570.9,603.7 571.1,601.8 571.2,606.7 571.4,604.1 571.5,602.2 571.7,605.5 571.8,596.7 572.0,605.2 572.1,607.4 572.3,608.7 572.4,609.3 572.6,602.4 572.7,600.6 572.9,597.3 573.0,598.1 573.2,601.6 573.3,609.6 573.5,605.6 573.6,607.8 573.8,606.5 574.0,601.6 574.1,601.9 574.3,600.5 574.4,596.0 574.6,606.1 574.7,599.7 574.9,604.1 575.0,600.2 575.2,605.4 575.3,606.5 575.5,605.9 575.6,604.0 575.8,599.6 575.9,604.1 576.1,599.8 576.2,603.1 576.4,604.6 576.5,600.8 576.7,603.1 576.8,607.9 577.0,602.0 577.1,604.9 577.3,603.4 577.4,600.0 577.6,608.0 577.7,603.0 577.9,605.4 578.0,603.7 578.2,604.4 578.3,597.2 578.5,607.1 578.6,603.3 578.8,606.0 578.9,602.7 579.1,602.6 579.2,602.6 579.4,607.7 579.5,602.3 579.7,599.8 579.8,602.7 580.0,602.9 580.1,600.4 580.3,605.9 580.4,604.7 580.6,604.5 580.7,605.9 580.9,599.7 581.1,603.9 581.2,606.9 581.4,607.3 581.5,611.7 581.7,599.9 581.8,605.4 582.0,604.7 582.1,605.3 582.3,600.6 582.4,597.8 582.6,607.8 582.7,605.7 582.9,607.4 583.0,604.2 583.2,604.8 583.3,608.9 583.5,607.4 583.6,604.4 583.8,603.8 583.9,609.7 584.1,607.2 584.2,607.2 584.4,604.1 584.5,605.2 584.7,605.3 584.8,603.3 585.0,607.4 585.1,601.2 585.3,605.4 585.4,599.0 585.6,606.3 585.7,601.5 585.9,606.2 586.0,603.7 586.2,601.2 586.3,602.7 586.5,604.4 586.6,604.6 586.8,608.5 586.9,604.6 587.1,601.4 587.2,606.8 587.4,603.9 587.5,604.5 587.7,600.4 587.9,607.5 588.0,605.7 588.2,605.5 588.3,600.9 588.5,602.7 588.6,598.7 588.8,601.2 588.9,609.5 589.1,601.2 589.2,605.3 589.4,602.4 589.5,607.8 589.7,602.9 589.8,603.5 590.0,604.0 590.1,600.2 590.3,602.1 590.4,603.4 590.6,600.3 590.7,606.4 590.9,601.7 591.0,603.2 591.2,601.8 591.3,604.0 591.5,606.1 591.6,599.9 591.8,601.3 591.9,604.5 592.1,603.4 592.2,607.3 592.4,606.9 592.5,607.8 592.7,604.7 592.8,604.3 593.0,602.9 593.1,603.8 593.3,597.8 593.4,600.7 593.6,600.6 593.7,605.8 593.9,613.0 594.0,606.9 594.2,601.1 594.3,604.7 594.5,608.3 594.6,606.2 594.8,602.4 595.0,598.5 595.1,607.6 595.3,602.7 595.4,602.9 595.6,602.8 595.7,604.0 595.9,607.1 596.0,603.8 596.2,604.3 596.3,598.9 596.5,605.8 596.6,607.3 596.8,603.4 596.9,601.7 597.1,605.5 597.2,604.8 597.4,607.2 597.5,609.6 597.7,605.1 597.8,604.7 598.0,606.6 598.1,609.1 598.3,600.8 598.4,606.9 598.6,607.4 598.7,607.8 598.9,605.3 599.0,598.4 599.2,608.7 599.3,610.1 599.5,601.6 599.6,599.4 599.8,605.3 599.9,600.9 600.1,599.6 600.2,602.0 600.4,603.6 600.5,598.1 600.7,599.2 600.8,602.9 601.0,601.1 601.1,606.7 601.3,605.0 601.4,605.4 601.6,605.2 601.8,605.1 601.9,605.9 602.1,608.5 602.2,607.5 602.4,609.4 602.5,608.3 602.7,608.4 602.8,608.6 603.0,604.9 603.1,602.5 603.3,606.8 603.4,607.9 603.6,609.0 603.7,604.6 603.9,604.6 604.0,605.7 604.2,603.0 604.3,600.8 604.5,605.4 604.6,607.5 604.8,604.8 604.9,603.0 605.1,604.1 605.2,602.7 605.4,601.6 605.5,609.9 605.7,602.1 605.8,608.8 606.0,602.6 606.1,604.1 606.3,609.3 606.4,602.2 606.6,607.3 606.7,606.8 606.9,604.0 607.0,603.1 607.2,604.6 607.3,606.5 607.5,600.2 607.6,605.5 607.8,603.9 607.9,607.1 608.1,604.2 608.2,605.8 608.4,607.3 608.5,607.2 608.7,603.2 608.9,607.1 609.0,604.3 609.2,605.9 609.3,602.4 609.5,607.0 609.6,607.0 609.8,603.2 609.9,604.5 610.1,601.7 610.2,604.3 610.4,601.7 610.5,606.3 610.7,607.3 610.8,603.9 611.0,601.1 611.1,606.0 611.3,610.9 611.4,605.4 611.6,606.9 611.7,604.2 611.9,603.5 612.0,608.6 612.2,607.3 612.3,606.1 612.5,606.3 612.6,605.2 612.8,607.4 612.9,604.3 613.1,601.7 613.2,608.2 613.4,605.3 613.5,604.4 613.7,608.7 613.8,610.3 614.0,607.7 614.1,607.8 614.3,610.2 614.4,606.1 614.6,610.9 614.7,609.0 614.9,608.5 615.0,608.7 615.2,604.7 615.3,604.7 615.5,606.2 615.7,604.1 615.8,609.5 616.0,610.3 616.1,612.1 616.3,610.0 616.4,609.8 616.6,609.9 616.7,610.3 616.9,609.9 617.0,609.0 617.2,610.5 617.3,607.0 617.5,612.4 617.6,606.6 617.8,601.6 617.9,611.7 618.1,609.1 618.2,607.6 618.4,603.2 618.5,606.2 618.7,608.7 618.8,616.4 619.0,606.6 619.1,609.9 619.3,608.6 619.4,609.3 619.6,611.0 619.7,608.4 619.9,604.5 620.0,612.4 620.2,604.3 620.3,612.8 620.5,608.8 620.6,608.8 620.8,609.2 620.9,607.4 621.1,608.3 621.2,608.7 621.4,610.4 621.5,610.1 621.7,608.5 621.8,612.0 622.0,609.2 622.1,604.4 622.3,609.0 622.4,607.2 622.6,613.7 622.8,612.6 622.9,613.1 623.1,608.6 623.2,612.6 623.4,608.8 623.5,607.5 623.7,612.4 623.8,604.7 624.0,609.1 624.1,612.4 624.3,613.4 624.4,608.8 624.6,604.7 624.7,605.6 624.9,605.1 625.0,605.3 625.2,611.9 625.3,611.4 625.5,608.4 625.6,609.6 625.8,608.3 625.9,611.5 626.1,609.4 626.2,608.8 626.4,605.1 626.5,608.5 626.7,607.5 626.8,616.0 627.0,606.0 627.1,607.5 627.3,610.4 627.4,608.8 627.6,608.7 627.7,608.9 627.9,606.6 628.0,609.4 628.2,612.6 628.3,613.3 628.5,608.3 628.6,608.3 628.8,610.7 628.9,609.6 629.1,609.2 629.2,609.7 629.4,607.3 629.6,605.7 629.7,606.9 629.9,608.0 630.0,604.8 630.2,612.6 630.3,612.2 630.5,611.2 630.6,608.5 630.8,610.7 630.9,602.6 631.1,611.0 631.2,609.6 631.4,611.8 631.5,607.8 631.7,606.9 631.8,615.0 632.0,615.5 632.1,611.3 632.3,614.3 632.4,610.5 632.6,612.1 632.7,608.8 632.9,608.8 633.0,610.7 633.2,614.9 633.3,611.4 633.5,602.8 633.6,608.3 633.8,611.4 633.9,603.8 634.1,610.4 634.2,613.8 634.4,611.8 634.5,610.7 634.7,612.4 634.8,610.4 635.0,608.8 635.1,616.3 635.3,611.2 635.4,605.0 635.6,610.6 635.7,615.5 635.9,613.4 636.0,612.1 636.2,609.1 636.3,614.2 636.5,612.7 636.7,614.3 636.8,610.3 637.0,611.4 637.1,611.5 637.3,611.9 637.4,611.4 637.6,615.1 637.7,606.1 637.9,610.1 638.0,609.6 638.2,613.9 638.3,607.0 638.5,607.1 638.6,609.0 638.8,611.7 638.9,608.6 639.1,614.9 639.2,610.7 639.4,611.5 639.5,610.6 639.7,612.8 639.8,610.5 640.0,611.9 640.1,616.2 640.3,613.1 640.4,613.0 640.6,613.4 640.7,612.1 640.9,610.0 641.0,609.2 641.2,611.1 641.3,615.5 641.5,614.5 641.6,616.4 641.8,613.4 641.9,615.7 642.1,612.1 642.2,611.4 642.4,607.9 642.5,610.2 642.7,612.8 642.8,616.2 643.0,612.5 643.1,611.1 643.3,610.6 643.5,611.8 643.6,616.1 643.8,611.5 643.9,607.7 644.1,614.0 644.2,618.0 644.4,608.5 644.5,608.0 644.7,611.9 644.8,602.4 645.0,614.9 645.1,612.5 645.3,607.1 645.4,611.7 645.6,615.8 645.7,608.9 645.9,614.2 646.0,614.7 646.2,612.3 646.3,615.3 646.5,614.6 646.6,611.7 646.8,613.8 646.9,622.3 647.1,617.8 647.2,616.6 647.4,618.9 647.5,606.2 647.7,611.3 647.8,619.1 648.0,615.4 648.1,610.0 648.3,616.0 648.4,613.1 648.6,609.2 648.7,613.4 648.9,610.8 649.0,611.7 649.2,615.0 649.3,619.8 649.5,616.4 649.6,614.8 649.8,615.6 649.9,614.8 650.1,614.9 650.2,616.1 650.4,614.5 650.6,616.1 650.7,614.7 650.9,616.9 651.0,614.9 651.2,614.3 651.3,605.5 651.5,613.5 651.6,616.8 651.8,614.5 651.9,615.3 652.1,615.9 652.2,613.3 652.4,616.8 652.5,613.2 652.7,613.8 652.8,612.7 653.0,621.3 653.1,615.0 653.3,618.1 653.4,614.8 653.6,615.1 653.7,610.4 653.9,617.0 654.0,614.1 654.2,615.4 654.3,612.3 654.5,609.5 654.6,609.1 654.8,618.8 654.9,611.9 655.1,618.8 655.2,612.0 655.4,613.8 655.5,613.5 655.7,611.3 655.8,614.5 656.0,614.3 656.1,611.4 656.3,610.7 656.4,617.8 656.6,607.4 656.7,611.9 656.9,610.1 657.0,611.1 657.2,607.4"/>
<polyline fill="none" stroke="#f00" stroke-width="0.9" stroke-linejoin="round" points="53.0,546.7 53.2,541.7 53.3,545.6 53.5,545.3 53.6,545.2 53.8,545.6 53.9,545.9 54.1,546.0 54.2,542.7 54.4,537.5 54.5,548.3 54.7,547.5 54.8,545.8 55.0,544.9 55.1,543.2 55.3,548.7 55.4,541.8 55.6,542.6 55.7,547.5 55.9,547.7 56.0,549.1 56.2,542.4 56.3,542.1 56.5,550.0 56.6,545.7 56.8,545.4 56.9,549.9 57.1,544.4 57.2,545.2 57.4,543.3 57.5,543.3 57.7,546.1 57.8,545.9 58.0,543.1 58.1,545.5 58.3,547.6 58.4,546.1 58.6,550.7 58.7,543.1 58.9,546.2 59.0,548.5 59.2,548.0 59.3,546.5 59.5,544.0 59.6,549.4 59.8,548.9 60.0,546.6 60.1,544.1 60.3,548.0 60.4,544.3 60.6,550.6 60.7,542.7 60.9,544.2 61.0,546.9 61.2,542.6 61.3,547.0 61.5,547.0 61.6,542.6 61.8,543.3 61.9,540.3 62.1,547.9 62.2,543.7 62.4,549.5 62.5,548.9 62.7,548.6 62.8,546.5 63.0,543.6 63.1,548.3 63.3,545.0 63.4,538.6 63.6,550.8 63.7,546.6 63.9,548.6 64.0,552.4 64.2,549.4 64.3,548.0 64.5,542.1 64.6,546.2 64.8,549.8 64.9,539.7 65.1,540.2 65.2,546.4 65.4,542.8 65.5,545.7 65.7,549.1 65.8,544.0 66.0,549.6 66.1,547.3 66.3,543.8 66.4,545.5 66.6,544.3 66.7,548.1 66.9,547.8 67.1,552.3 67.2,549.9 67.4,545.8 67.5,544.6 67.7,548.5 67.8,551.4 68.0,542.4 68.1,550.2 68.3,550.0 68.4,551.4 68.6,545.3 68.7,546.5 68.9,544.5 69.0,541.8 69.2,541.0 69.3,542.7 69.5,549.3 69.6,547.6 69.8,544.0 69.9,545.7 70.1,547.1 70.2,544.9 70.4,549.0 70.5,546.5 70.7,544.9 70.8,543.3 71.0,549.0 71.1,542.8 71.3,546.5 71.4,550.9 71.6,537.6 71.7,545.3 71.9,545.0 72.0,545.3 72.2,544.6 72.3,541.6 72.5,549.3 72.6,544.0 72.8,549.3 72.9,542.9 73.1,547.9 73.2,549.7 73.4,546.9 73.5,540.9 73.7,540.2 73.9,545.3 74.0,544.3 74.2,543.0 74.3,545.3 74.5,545.1 74.6,546.0 74.8,547.7 74.9,551.5 75.1,551.4 75.2,545.6 75.4,542.0 75.5,544.4 75.7,543.9 75.8,540.2 76.0,539.9 76.1,547.9 76.3,546.9 76.4,546.9 76.6,546.6 76.7,548.9 76.9,543.8 77.0,545.9 77.2,545.1 77.3,546.7 77.5,546.3 77.6,542.8 77.8,543.9 77.9,542.8 78.1,549.0 78.2,546.7 78.4,545.2 78.5,548.4 78.7,547.2 78.8,543.2 79.0,543.0 79.1,547.6 79.3,541.7 79.4,543.3 79.6,542.6 79.7,545.9 79.9,549.5 80.0,549.0 80.2,547.4 80.3,543.5 80.5,542.9 80.6,542.6 80.8,546.6 81.0,541.8 81.1,546.5 81.3,542.6 81.4,542.5 81.6,544.0 81.7,546.4 81.9,545.1 82.0,544.0 82.2,544.1 82.3,543.7 82.5,546.4 82.6,542.6 82.8,544.5 82.9,541.6 83.1,542.5 83.2,541.9 83.4,546.2 83.5,542.7 83.7,543.9 83.8,547.1 84.0,547.0 84.1,545.8 84.3,546.6 84.4,553.4 84.6,547.7 84.7,543.0 84.9,542.8 85.0,542.1 85.2,541.6 85.3,545.7 85.5,542.5 85.6,545.1 85.8,546.1 85.9,543.9 86.1,546.6 86.2,544.3 86.4,549.3 86.5,549.2 86.7,550.6 86.8,549.3 87.0,547.8 87.1,546.9 87.3,542.3 87.4,549.1 87.6,552.7 87.8,546.6 87.9,545.7 88.1,543.9 88.2,545.5 88.4,553.2 88.5,540.3 88.7,543.4 88.8,548.3 89.0,547.6 89.1,542.8 89.3,545.8 89.4,547.3 89.6,545.4 89.7,541.7 89.9,542.5 90.0,539.5 90.2,542.8 90.3,540.1 90.5,544.3 90.6,547.6 90.8,543.6 90.9,547.3 91.1,544.4 91.2,546.8 91.4,549.1 91.5,541.3 91.7,552.9 91.8,549.0 92.0,547.5 92.1,551.6 92.3,548.1 92.4,547.9 92.6,542.0 92.7,551.2 92.9,549.3 93.0,543.9 93.2,542.9 93.3,549.6 93.5,544.0 93.6,540.9 93.8,546.2 93.9,546.9 94.1,546.4 94.2,549.5 94.4,543.7 94.5,549.9 94.7,554.4 94.9,547.7 95.0,547.6 95.2,541.4 95.3,550.1 95.5,550.6 95.6,546.6 95.8,550.2 95.9,549.5 96.1,547.5 96.2,542.2 96.4,545.8 96.5,548.3 96.7,547.7 96.8,543.2 97.0,543.1 97.1,545.9 97.3,549.7 97.4,549.5 97.6,543.2 97.7,541.4 97.9,547.4 98.0,547.2 98.2,547.7 98.3,540.5 98.5,547.8 98.6,551.0 98.8,546.6 98.9,554.1 99.1,551.8 99.2,545.7 99.4,548.6 99.5,545.6 99.7,543.9 99.8,547.4 100.0,547.4 100.1,538.8 100.3,546.8 100.4,539.3 100.6,546.1 100.7,550.5 100.9,545.8 101.0,540.5 101.2,549.1 101.3,547.0 101.5,540.2 101.7,538.2 101.8,546.7 102.0,543.7 102.1,546.2 102.3,541.6 102.4,539.0 102.6,544.0 102.7,545.3 102.9,543.3 103.0,540.9 103.2,538.4 103.3,535.7 103.5,544.2 103.6,543.8 103.8,541.8 103.9,543.2 104.1,537.5 104.2,538.8 104.4,546.2 104.5,545.5 104.7,537.7 104.8,543.3 105.0,545.9 105.1,537.8 105.3,544.3 105.4,547.4 105.6,544.3 105.7,545.6 105.9,542.0 106.0,543.2 106.2,536.0 106.3,541.9 106.5,540.9 106.6,543.1 106.8,545.1 106.9,540.1 107.1,542.1 107.2,538.4 107.4,544.3 107.5,543.4 107.7,541.2 107.8,536.9 108.0,542.8 108.1,538.2 108.3,544.2 108.4,543.6 108.6,539.3 108.8,541.8 108.9,540.4 109.1,542.2 109.2,541.5 109.4,540.0 109.5,536.7 109.7,542.9 109.8,541.2 110.0,535.8 110.1,540.7 110.3,538.4 110.4,545.5 110.6,543.3 110.7,540.4 110.9,537.7 111.0,535.0 111.2,540.5 111.3,543.6 111.5,538.2 111.6,541.2 111.8,536.0 111.9,542.4 112.1,533.5 112.2,539.5 112.4,537.3 112.5,541.2 112.7,539.0 112.8,540.3 113.0,542.8 113.1,545.6 113.3,544.5 113.4,542.6 113.6,541.2 113.7,540.6 113.9,543.6 114.0,541.5 114.2,540.7 114.3,535.5 114.5,538.8 114.6,541.8 114.8,542.4 114.9,539.8 115.1,533.0 115.2,540.7 115.4,542.5 115.6,542.1 115.7,540.4 115.9,542.5 116.0,549.7 116.2,541.7 116.3,541.7 116.5,544.0 116.6,544.3 116.8,545.6 116.9,540.7 117.1,537.3 117.2,542.9 117.4,534.7 117.5,542.9 117.7,543.2 117.8,535.9 118.0,541.9 118.1,541.6 118.3,538.2 118.4,539.2 118.6,536.9 118.7,540.8 118.9,544.2 119.0,536.2 119.2,540.9 119.3,539.0 119.5,543.4 119.6,534.7 119.8,544.1 119.9,536.7 120.1,538.5 120.2,541.2 120.4,539.5 120.5,536.1 120.7,540.8 120.8,533.9 121.0,543.3 121.1,543.8 121.3,536.1 121.4,537.2 121.6,531.7 121.7,538.5 121.9,542.0 122.0,535.0 122.2,532.6 122.3,536.9 122.5,535.4 122.7,539.8 122.8,532.5 123.0,533.1 123.1,533.1 123.3,538.7 123.4,537.3 123.6,537.4 123.7,544.2 123.9,533.9 124.0,537.0 124.2,538.6 124.3,535.0 124.5,535.3 124.6,541.4 124.8,542.1 124.9,542.2 125.1,536.3 125.2,533.6 125.4,535.4 125.5,538.6 125.7,535.9 125.8,528.8 126.0,531.6 126.1,525.5 126.3,522.1 126.4,518.3 126.6,512.5 126.7,508.4 126.9,504.5 127.0,500.4 127.2,498.9 127.3,498.0 127.5,497.3 127.6,498.7 127.8,501.1 127.9,503.9 128.1,507.5 128.2,513.2 128.4,516.7 128.5,521.4 128.7,527.0 128.8,526.9 129.0,530.9 129.1,531.1 129.3,531.3 129.5,527.8 129.6,534.2 129.8,529.6 129.9,533.6 130.1,531.1 130.2,533.4 130.4,536.0 130.5,540.5 130.7,537.1 130.8,535.5 131.0,532.9 131.1,531.2 131.3,534.4 131.4,525.3 131.6,530.0 131.7,529.9 131.9,525.5 132.0,526.5 132.2,523.8 132.3,522.2 132.5,519.5 132.6,515.3 132.8,514.9 132.9,514.4 133.1,512.8 133.2,512.2 133.4,513.8 133.5,515.4 133.7,516.7 133.8,518.7 134.0,521.6 134.1,525.5 134.3,524.9 134.4,524.4 134.6,528.0 134.7,529.9 134.9,531.6 135.0,533.8 135.2,530.8 135.3,535.3 135.5,533.7 135.6,534.4 135.8,531.7 135.9,532.7 136.1,533.9 136.2,530.3 136.4,531.0 136.6,531.2 136.7,532.9 136.9,531.0 137.0,529.3 137.2,527.9 137.3,532.0 137.5,532.0 137.6,530.0 137.8,536.6 137.9,534.7 138.1,533.8 138.2,535.5 138.4,534.9 138.5,532.3 138.7,533.4 138.8,528.4 139.0,523.9 139.1,532.2 139.3,532.3 139.4,530.1 139.6,530.2 139.7,525.4 139.9,530.8 140.0,530.0 140.2,531.1 140.3,533.1 140.5,522.8 140.6,534.8 140.8,530.4 140.9,533.2 141.1,531.4 141.2,531.8 141.4,532.0 141.5,527.1 141.7,534.5 141.8,530.4 142.0,531.9 142.1,530.3 142.3,530.5 142.4,530.0 142.6,527.9 142.7,533.4 142.9,532.6 143.0,539.2 143.2,532.5 143.4,524.1 143.5,530.5 143.7,532.4 143.8,531.9 144.0,537.9 144.1,528.2 144.3,528.4 144.4,531.7 144.6,530.3 144.7,535.3 144.9,537.0 145.0,533.0 145.2,531.2 145.3,530.0 145.5,530.7 145.6,527.7 145.8,531.2 145.9,532.8 146.1,532.0 146.2,534.1 146.4,532.8 146.5,536.2 146.7,533.9 146.8,531.1 147.0,530.3 147.1,535.9 147.3,530.8 147.4,530.7 147.6,532.6 147.7,531.3 147.9,534.1 148.0,530.1 148.2,533.7 148.3,535.4 148.5,537.1 148.6,535.1 148.8,534.0 148.9,529.0 149.1,525.6 149.2,533.9 149.4,534.4 149.5,534.7 149.7,535.7 149.8,537.7 150.0,534.1 150.1,535.1 150.3,529.5 150.5,535.0 150.6,534.8 150.8,532.0 150.9,534.0 151.1,530.4 151.2,528.2 151.4,525.9 151.5,533.8 151.7,530.3 151.8,530.4 152.0,526.8 152.1,527.6 152.3,534.0 152.4,528.1 152.6,533.1 152.7,527.3 152.9,528.6 153.0,533.2 153.2,537.9 153.3,537.6 153.5,536.5 153.6,536.4 153.8,538.0 153.9,535.2 154.1,542.1 154.2,537.3 154.4,536.7 154.5,532.1 154.7,534.4 154.8,532.3 155.0,534.2 155.1,533.7 155.3,535.4 155.4,530.6 155.6,533.6 155.7,537.2 155.9,537.4 156.0,534.8 156.2,532.2 156.3,536.1 156.5,543.8 156.6,539.0 156.8,535.5 156.9,530.0 157.1,538.4 157.3,541.7 157.4,537.4 157.6,541.0 157.7,535.7 157.9,535.2 158.0,532.9 158.2,536.9 158.3,541.4 158.5,537.5 158.6,535.1 158.8,531.8 158.9,535.7 159.1,541.4 159.2,538.2 159.4,531.4 159.5,536.0 159.7,538.9 159.8,539.1 160.0,538.9 160.1,534.2 160.3,538.7 160.4,533.6 160.6,532.9 160.7,540.9 160.9,532.8 161.0,532.2 161.2,532.9 161.3,535.9 161.5,532.0 161.6,538.5 161.8,533.0 161.9,534.0 162.1,536.5 162.2,539.3 162.4,542.3 162.5,544.7 162.7,535.6 162.8,534.2 163.0,541.0 163.1,539.5 163.3,539.8 163.4,529.8 163.6,532.1 163.7,537.6 163.9,536.8 164.0,542.1 164.2,536.5 164.4,529.6 164.5,536.9 164.7,536.7 164.8,541.2 165.0,536.3 165.1,536.3 165.3,534.6 165.4,543.6 165.6,535.5 165.7,535.5 165.9,536.6 166.0,534.3 166.2,540.5 166.3,538.4 166.5,536.1 166.6,535.1 166.8,538.6 166.9,533.2 167.1,534.7 167.2,536.0 167.4,534.6 167.5,539.1 167.7,537.7 167.8,532.2 168.0,538.4 168.1,547.3 168.3,539.7 168.4,539.9 168.6,532.4 168.7,539.8 168.9,543.3 169.0,542.5 169.2,542.2 169.3,541.6 169.5,538.3 169.6,544.2 169.8,541.1 169.9,540.3 170.1,534.1 170.2,536.6 170.4,540.8 170.5,538.0 170.7,541.0 170.8,536.5 171.0,542.6 171.2,534.6 171.3,536.6 171.5,535.9 171.6,534.8 171.8,537.6 171.9,539.5 172.1,539.7 172.2,545.2 172.4,534.4 172.5,537.1 172.7,539.2 172.8,531.3 173.0,539.7 173.1,533.2 173.3,542.1 173.4,539.6 173.6,539.9 173.7,537.3 173.9,539.2 174.0,536.6 174.2,539.9 174.3,538.9 174.5,540.1 174.6,543.8 174.8,543.4 174.9,539.0 175.1,541.4 175.2,536.6 175.4,536.0 175.5,537.9 175.7,538.1 175.8,541.3 176.0,539.7 176.1,538.1 176.3,537.3 176.4,537.8 176.6,539.9 176.7,538.7 176.9,539.0 177.0,542.7 177.2,539.2 177.3,538.9 177.5,539.8 177.6,538.0 177.8,540.6 177.9,538.1 178.1,535.6 178.3,535.3 178.4,540.3 178.6,536.8 178.7,543.7 178.9,539.0 179.0,532.1 179.2,539.2 179.3,537.7 179.5,540.5 179.6,540.4 179.8,537.3 179.9,541.2 180.1,539.0 180.2,538.2 180.4,544.7 180.5,534.9 180.7,539.2 180.8,547.7 181.0,542.5 181.1,540.9 181.3,541.4 181.4,532.4 181.6,541.3 181.7,535.9 181.9,541.5 182.0,533.2 182.2,534.4 182.3,542.1 182.5,539.6 182.6,535.3 182.8,535.7 182.9,533.2 183.1,541.8 183.2,537.0 183.4,538.9 183.5,537.1 183.7,538.3 183.8,543.9 184.0,539.4 184.1,540.5 184.3,536.2 184.4,542.4 184.6,540.2 184.7,542.4 184.9,544.5 185.1,543.2 185.2,540.5 185.4,537.2 185.5,538.3 185.7,537.0 185.8,539.3 186.0,536.0 186.1,539.7 186.3,540.8 186.4,533.0 186.6,535.9 186.7,541.2 186.9,536.5 187.0,538.7 187.2,536.6 187.3,537.7 187.5,539.8 187.6,537.0 187.8,540.8 187.9,531.4 188.1,538.6 188.2,536.4 188.4,535.1 188.5,533.2 188.7,534.9 188.8,535.5 189.0,535.9 189.1,541.3 189.3,537.5 189.4,541.4 189.6,539.2 189.7,534.8 189.9,537.1 190.0,534.6 190.2,545.3 190.3,537.4 190.5,538.2 190.6,537.5 190.8,544.9 190.9,539.5 191.1,535.0 191.2,535.5 191.4,528.4 191.5,533.1 191.7,531.7 191.8,543.3 192.0,532.4 192.2,536.5 192.3,532.6 192.5,537.9 192.6,535.5 192.8,537.9 192.9,533.0 193.1,533.2 193.2,534.9 193.4,531.3 193.5,534.6 193.7,538.9 193.8,537.7 194.0,535.9 194.1,537.3 194.3,534.8 194.4,538.7 194.6,540.6 194.7,533.5 194.9,539.5 195.0,533.9 195.2,540.3 195.3,536.3 195.5,537.6 195.6,531.9 195.8,536.4 195.9,537.1 196.1,534.7 196.2,529.6 196.4,533.8 196.5,533.2 196.7,535.5 196.8,532.6 197.0,531.8 197.1,528.0 197.3,531.1 197.4,532.1 197.6,531.6 197.7,530.6 197.9,533.7 198.0,533.8 198.2,535.7 198.3,535.4 198.5,529.1 198.6,530.2 198.8,535.0 199.0,536.2 199.1,541.8 199.3,533.9 199.4,533.0 199.6,534.4 199.7,533.7 199.9,536.0 200.0,528.6 200.2,527.7 200.3,534.3 200.5,536.1 200.6,535.1 200.8,535.9 200.9,537.6 201.1,532.8 201.2,532.2 201.4,533.0 201.5,531.0 201.7,536.1 201.8,531.9 202.0,537.2 202.1,531.2 202.3,536.5 202.4,531.9 202.6,533.9 202.7,531.0 202.9,534.5 203.0,538.9 203.2,527.2 203.3,533.7 203.5,535.3 203.6,532.5 203.8,530.7 203.9,525.5 204.1,534.5 204.2,534.8 204.4,535.5 204.5,531.1 204.7,533.4 204.8,532.7 205.0,540.3 205.1,533.3 205.3,526.3 205.4,529.1 205.6,532.8 205.7,532.2 205.9,534.7 206.1,536.3 206.2,529.0 206.4,535.7 206.5,529.9 206.7,528.4 206.8,532.5 207.0,533.6 207.1,531.0 207.3,524.8 207.4,530.9 207.6,530.3 207.7,531.3 207.9,528.4 208.0,534.9 208.2,533.6 208.3,525.3 208.5,536.5 208.6,527.0 208.8,526.0 208.9,528.4 209.1,529.7 209.2,533.3 209.4,523.2 209.5,529.2 209.7,525.3 209.8,530.9 210.0,530.8 210.1,534.2 210.3,531.2 210.4,529.8 210.6,526.6 210.7,534.1 210.9,527.4 211.0,533.2 211.2,527.0 211.3,528.1 211.5,531.9 211.6,530.6 211.8,535.6 211.9,528.6 212.1,528.5 212.2,528.0 212.4,528.1 212.5,526.4 212.7,532.0 212.9,525.9 213.0,527.8 213.2,528.3 213.3,527.6 213.5,533.7 213.6,526.3 213.8,532.6 213.9,531.8 214.1,523.9 214.2,528.8 214.4,530.3 214.5,532.2 214.7,525.7 214.8,532.1 215.0,529.7 215.1,524.1 215.3,528.1 215.4,522.2 215.6,527.5 215.7,530.5 215.9,527.7 216.0,519.9 216.2,522.7 216.3,524.3 216.5,522.4 216.6,524.9 216.8,526.9 216.9,526.8 217.1,525.0 217.2,525.8 217.4,528.7 217.5,522.7 217.7,527.6 217.8,525.4 218.0,529.9 218.1,529.3 218.3,528.7 218.4,524.9 218.6,528.0 218.7,523.9 218.9,526.2 219.0,525.9 219.2,524.4 219.3,522.4 219.5,525.7 219.6,532.0 219.8,524.2 220.0,521.7 220.1,520.4 220.3,530.4 220.4,525.4 220.6,523.4 220.7,518.7 220.9,523.6 221.0,520.3 221.2,522.9 221.3,528.0 221.5,521.8 221.6,527.8 221.8,519.9 221.9,522.8 222.1,520.1 222.2,517.0 222.4,519.6 222.5,522.3 222.7,520.7 222.8,520.1 223.0,522.8 223.1,523.7 223.3,520.3 223.4,520.8 223.6,520.4 223.7,512.8 223.9,515.5 224.0,516.9 224.2,523.6 224.3,523.4 224.5,521.9 224.6,522.1 224.8,521.2 224.9,525.5 225.1,521.4 225.2,521.2 225.4,522.9 225.5,518.7 225.7,518.9 225.8,523.3 226.0,522.1 226.1,523.4 226.3,524.5 226.4,517.0 226.6,521.0 226.8,512.2 226.9,523.7 227.1,520.7 227.2,521.1 227.4,523.9 227.5,522.0 227.7,522.6 227.8,520.5 228.0,518.5 228.1,516.8 228.3,522.1 228.4,521.2 228.6,524.9 228.7,519.2 228.9,523.3 229.0,523.6 229.2,521.5 229.3,520.8 229.5,516.8 229.6,522.1 229.8,525.2 229.9,519.8 230.1,522.0 230.2,527.6 230.4,521.4 230.5,520.3 230.7,518.5 230.8,522.2 231.0,522.2 231.1,520.1 231.3,519.9 231.4,521.1 231.6,519.6 231.7,521.2 231.9,521.9 232.0,518.3 232.2,523.3 232.3,523.1 232.5,515.5 232.6,519.1 232.8,521.7 232.9,519.0 233.1,517.7 233.2,517.7 233.4,517.7 233.5,521.9 233.7,522.2 233.9,516.4 234.0,523.8 234.2,525.7 234.3,521.7 234.5,518.3 234.6,524.7 234.8,517.8 234.9,525.4 235.1,521.8 235.2,517.9 235.4,530.5 235.5,525.1 235.7,522.1 235.8,520.0 236.0,524.5 236.1,519.7 236.3,524.9 236.4,519.8 236.6,519.3 236.7,517.4 236.9,522.6 237.0,520.3 237.2,516.9 237.3,514.6 237.5,519.7 237.6,522.0 237.8,524.8 237.9,522.4 238.1,519.0 238.2,521.0 238.4,520.4 238.5,516.6 238.7,519.3 238.8,522.6 239.0,521.2 239.1,522.1 239.3,521.9 239.4,522.7 239.6,519.4 239.7,527.0 239.9,521.4 240.0,523.9 240.2,528.1 240.3,516.8 240.5,520.1 240.7,528.6 240.8,523.5 241.0,525.5 241.1,521.1 241.3,520.3 241.4,528.1 241.6,523.7 241.7,526.0 241.9,526.7 242.0,524.3 242.2,533.9 242.3,528.1 242.5,532.5 242.6,523.7 242.8,522.9 242.9,527.0 243.1,524.4 243.2,525.1 243.4,530.6 243.5,527.4 243.7,529.2 243.8,533.7 244.0,528.9 244.1,529.5 244.3,530.7 244.4,525.6 244.6,531.1 244.7,530.5 244.9,528.2 245.0,528.9 245.2,527.6 245.3,530.2 245.5,524.7 245.6,530.4 245.8,531.8 245.9,531.0 246.1,533.2 246.2,531.9 246.4,530.7 246.5,529.8 246.7,534.7 246.8,533.5 247.0,533.2 247.1,533.1 247.3,537.6 247.4,530.8 247.6,535.1 247.8,543.2 247.9,538.3 248.1,531.3 248.2,535.1 248.4,529.1 248.5,536.6 248.7,535.5 248.8,541.9 249.0,529.7 249.1,539.2 249.3,532.9 249.4,529.2 249.6,535.8 249.7,543.3 249.9,530.1 250.0,539.6 250.2,540.8 250.3,546.7 250.5,545.1 250.6,538.8 250.8,542.3 250.9,546.0 251.1,545.5 251.2,544.4 251.4,543.9 251.5,539.2 251.7,539.9 251.8,536.6 252.0,539.0 252.1,539.2 252.3,542.8 252.4,537.3 252.6,541.3 252.7,542.8 252.9,541.0 253.0,539.1 253.2,543.0 253.3,546.0 253.5,548.2 253.6,543.7 253.8,544.9 253.9,541.3 254.1,545.9 254.2,545.1 254.4,550.3 254.6,542.8 254.7,544.7 254.9,542.7 255.0,540.4 255.2,549.3 255.3,542.0 255.5,548.8 255.6,547.4 255.8,541.0 255.9,541.2 256.1,546.2 256.2,544.1 256.4,545.4 256.5,544.8 256.7,550.7 256.8,547.4 257.0,548.8 257.1,546.6 257.3,547.3 257.4,551.5 257.6,544.6 257.7,549.5 257.9,548.7 258.0,550.2 258.2,548.2 258.3,547.8 258.5,551.8 258.6,549.4 258.8,549.6 258.9,549.6 259.1,546.4 259.2,546.8 259.4,550.1 259.5,552.4 259.7,553.1 259.8,552.1 260.0,554.5 260.1,553.4 260.3,551.6 260.4,554.5 260.6,556.0 260.7,552.7 260.9,555.0 261.0,552.6 261.2,554.1 261.4,556.3 261.5,549.8 261.7,555.7 261.8,558.4 262.0,553.4 262.1,554.4 262.3,555.3 262.4,556.5 262.6,553.8 262.7,552.9 262.9,562.9 263.0,555.6 263.2,558.5 263.3,556.6 263.5,556.7 263.6,555.7 263.8,556.6 263.9,560.5 264.1,559.5 264.2,563.7 264.4,555.5 264.5,560.2 264.7,558.1 264.8,562.0 265.0,566.3 265.1,558.7 265.3,562.5 265.4,563.2 265.6,563.6 265.7,568.3 265.9,562.5 266.0,561.0 266.2,559.2 266.3,561.6 266.5,562.3 266.6,561.8 266.8,563.8 266.9,561.6 267.1,560.9 267.2,560.0 267.4,560.5 267.5,559.9 267.7,560.8 267.8,559.5 268.0,563.5 268.1,562.8 268.3,555.4 268.5,561.0 268.6,558.9 268.8,562.8 268.9,565.6 269.1,556.4 269.2,555.0 269.4,554.4 269.5,546.5 269.7,538.6 269.8,530.2 270.0,522.9 270.1,519.0 270.3,512.8 270.4,508.3 270.6,508.4 270.7,508.2 270.9,510.1 271.0,516.1 271.2,522.4 271.3,530.8 271.5,537.4 271.6,544.2 271.8,552.6 271.9,552.7 272.1,557.3 272.2,558.3 272.4,563.6 272.5,566.8 272.7,566.9 272.8,566.3 273.0,569.5 273.1,565.6 273.3,565.3 273.4,568.1 273.6,568.7 273.7,568.8 273.9,568.6 274.0,574.1 274.2,565.2 274.3,570.2 274.5,568.5 274.6,570.1 274.8,565.8 274.9,568.0 275.1,566.0 275.3,564.7 275.4,570.3 275.6,561.5 275.7,569.3 275.9,573.8 276.0,572.1 276.2,572.4 276.3,569.7 276.5,564.8 276.6,569.2 276.8,569.9 276.9,569.4 277.1,570.0 277.2,571.4 277.4,569.4 277.5,566.0 277.7,569.7 277.8,568.7 278.0,572.9 278.1,573.9 278.3,572.0 278.4,575.3 278.6,568.4 278.7,573.2 278.9,573.6 279.0,569.8 279.2,575.4 279.3,563.4 279.5,568.6 279.6,573.6 279.8,576.8 279.9,568.4 280.1,569.1 280.2,570.3 280.4,564.9 280.5,565.7 280.7,567.2 280.8,570.9 281.0,572.4 281.1,565.9 281.3,569.3 281.4,564.2 281.6,570.4 281.7,567.4 281.9,570.1 282.0,572.0 282.2,572.0 282.4,574.8 282.5,567.0 282.7,573.9 282.8,575.4 283.0,575.9 283.1,576.7 283.3,572.8 283.4,575.0 283.6,575.5 283.7,578.2 283.9,576.5 284.0,576.0 284.2,575.4 284.3,578.6 284.5,576.5 284.6,582.2 284.8,577.4 284.9,575.5 285.1,571.5 285.2,571.6 285.4,575.8 285.5,574.1 285.7,568.9 285.8,577.1 286.0,567.4 286.1,579.3 286.3,573.0 286.4,579.4 286.6,574.9 286.7,576.6 286.9,575.4 287.0,572.2 287.2,572.5 287.3,573.7 287.5,580.4 287.6,576.9 287.8,577.7 287.9,577.6 288.1,582.0 288.2,575.7 288.4,579.5 288.5,576.0 288.7,576.1 288.8,580.9 289.0,575.8 289.2,578.0 289.3,579.0 289.5,580.7 289.6,574.8 289.8,583.4 289.9,576.9 290.1,577.4 290.2,582.5 290.4,578.1 290.5,582.7 290.7,580.9 290.8,579.0 291.0,584.0 291.1,578.4 291.3,577.7 291.4,575.5 291.6,581.0 291.7,577.2 291.9,575.9 292.0,576.1 292.2,577.8 292.3,581.0 292.5,584.6 292.6,577.5 292.8,577.6 292.9,576.6 293.1,583.2 293.2,576.9 293.4,575.4 293.5,581.8 293.7,576.8 293.8,582.6 294.0,581.5 294.1,577.9 294.3,579.3 294.4,586.5 294.6,580.8 294.7,573.3 294.9,581.1 295.0,573.9 295.2,585.2 295.3,575.5 295.5,576.7 295.6,580.9 295.8,582.2 295.9,576.3 296.1,580.5 296.3,583.5 296.4,580.1 296.6,577.6 296.7,578.0 296.9,583.3 297.0,580.2 297.2,582.7 297.3,578.4 297.5,578.5 297.6,581.3 297.8,584.7 297.9,576.7 298.1,581.1 298.2,580.3 298.4,585.3 298.5,582.1 298.7,580.6 298.8,581.9 299.0,575.6 299.1,580.3 299.3,581.4 299.4,578.6 299.6,577.4 299.7,583.1 299.9,578.7 300.0,584.6 300.2,576.2 300.3,584.6 300.5,575.1 300.6,578.6 300.8,579.2 300.9,580.4 301.1,578.8 301.2,582.8 301.4,575.4 301.5,580.9 301.7,577.7 301.8,579.4 302.0,578.9 302.1,579.0 302.3,580.8 302.4,576.9 302.6,579.5 302.7,577.2 302.9,576.4 303.1,575.3 303.2,575.9 303.4,571.8 303.5,572.1 303.7,570.2 303.8,568.5 304.0,568.5 304.1,568.7 304.3,568.4 304.4,568.7 304.6,569.8 304.7,570.7 304.9,571.4 305.0,570.2 305.2,573.5 305.3,575.6 305.5,575.9 305.6,578.0 305.8,579.5 305.9,579.2 306.1,576.3 306.2,579.5 306.4,577.5 306.5,579.2 306.7,582.8 306.8,582.3 307.0,581.6 307.1,580.5 307.3,581.1 307.4,587.2 307.6,583.3 307.7,581.7 307.9,583.3 308.0,585.6 308.2,581.1 308.3,583.9 308.5,582.2 308.6,585.3 308.8,582.8 308.9,584.8 309.1,581.6 309.2,589.6 309.4,581.0 309.5,583.0 309.7,584.7 309.8,581.6 310.0,581.8 310.2,582.8 310.3,587.7 310.5,579.8 310.6,587.4 310.8,592.7 310.9,585.0 311.1,584.6 311.2,590.4 311.4,586.4 311.5,587.0 311.7,585.3 311.8,583.4 312.0,580.8 312.1,588.7 312.3,584.3 312.4,585.1 312.6,583.6 312.7,588.3 312.9,584.7 313.0,578.0 313.2,584.1 313.3,588.6 313.5,587.7 313.6,590.4 313.8,593.3 313.9,581.1 314.1,587.6 314.2,589.5 314.4,585.6 314.5,588.9 314.7,586.7 314.8,587.9 315.0,590.1 315.1,589.1 315.3,585.7 315.4,590.5 315.6,588.6 315.7,583.6 315.9,584.6 316.0,587.9 316.2,584.1 316.3,587.0 316.5,585.6 316.6,585.9 316.8,593.0 317.0,586.4 317.1,581.1 317.3,585.1 317.4,589.9 317.6,586.9 317.7,590.3 317.9,582.3 318.0,586.3 318.2,585.0 318.3,584.7 318.5,580.7 318.6,584.8 318.8,590.9 318.9,585.2 319.1,585.3 319.2,582.5 319.4,591.1 319.5,585.3 319.7,589.3 319.8,590.2 320.0,588.8 320.1,587.3 320.3,584.5 320.4,589.9 320.6,583.2 320.7,582.9 320.9,587.7 321.0,585.3 321.2,585.1 321.3,588.1 321.5,584.5 321.6,587.2 321.8,587.1 321.9,586.2 322.1,589.7 322.2,578.2 322.4,586.7 322.5,587.8 322.7,585.1 322.8,589.1 323.0,586.9 323.1,590.4 323.3,594.0 323.4,586.3 323.6,584.3 323.7,588.5 323.9,591.5 324.1,588.1 324.2,586.0 324.4,589.6 324.5,586.2 324.7,586.4 324.8,590.7 325.0,586.7 325.1,587.8 325.3,590.2 325.4,589.5 325.6,588.8 325.7,590.3 325.9,593.2 326.0,592.0 326.2,586.9 326.3,584.8 326.5,587.6 326.6,589.0 326.8,589.8 326.9,585.7 327.1,591.2 327.2,584.0 327.4,589.1 327.5,587.9 327.7,589.0 327.8,587.0 328.0,589.6 328.1,589.9 328.3,590.7 328.4,587.4 328.6,585.4 328.7,587.9 328.9,589.8 329.0,587.0 329.2,586.7 329.3,588.1 329.5,592.6 329.6,592.6 329.8,592.8 329.9,592.5 330.1,591.0 330.2,584.1 330.4,583.7 330.5,588.7 330.7,592.8 330.9,588.7 331.0,591.7 331.2,592.3 331.3,587.1 331.5,593.3 331.6,587.7 331.8,592.0 331.9,592.6 332.1,589.6 332.2,590.1 332.4,588.3 332.5,590.0 332.7,594.8 332.8,596.8 333.0,587.8 333.1,590.6 333.3,587.4 333.4,592.3 333.6,595.0 333.7,589.0 333.9,595.5 334.0,587.8 334.2,588.6 334.3,599.0 334.5,591.2 334.6,589.8 334.8,586.5 334.9,590.5 335.1,592.3 335.2,593.7 335.4,593.2 335.5,596.1 335.7,594.4 335.8,594.0 336.0,591.0 336.1,593.5 336.3,592.4 336.4,596.3 336.6,590.3 336.7,595.5 336.9,592.3 337.0,592.2 337.2,589.5 337.3,596.4 337.5,595.1 337.6,587.9 337.8,593.9 338.0,592.9 338.1,590.5 338.3,594.5 338.4,592.2 338.6,591.8 338.7,588.3 338.9,592.2 339.0,598.2 339.2,590.1 339.3,589.7 339.5,593.3 339.6,595.3 339.8,591.6 339.9,590.3 340.1,593.3 340.2,590.6 340.4,589.1 340.5,595.7 340.7,593.3 340.8,598.3 341.0,595.1 341.1,589.9 341.3,592.7 341.4,594.5 341.6,599.7 341.7,593.7 341.9,596.9 342.0,593.0 342.2,591.9 342.3,586.3 342.5,595.8 342.6,600.4 342.8,593.2 342.9,599.6 343.1,588.1 343.2,592.7 343.4,593.3 343.5,594.7 343.7,599.9 343.8,593.7 344.0,593.8 344.1,592.8 344.3,593.6 344.4,591.5 344.6,590.6 344.8,596.5 344.9,587.5 345.1,592.6 345.2,595.8 345.4,596.1 345.5,592.7 345.7,596.9 345.8,591.3 346.0,593.5 346.1,589.6 346.3,593.0 346.4,594.6 346.6,589.9 346.7,595.5 346.9,588.1 347.0,592.7 347.2,593.6 347.3,600.8 347.5,595.1 347.6,588.6 347.8,593.8 347.9,592.7 348.1,595.2 348.2,591.6 348.4,592.7 348.5,589.7 348.7,596.7 348.8,591.2 349.0,592.0 349.1,594.6 349.3,592.8 349.4,590.1 349.6,592.1 349.7,591.6 349.9,587.5 350.0,595.5 350.2,592.3 350.3,592.9 350.5,591.4 350.6,594.2 350.8,593.0 350.9,595.0 351.1,595.2 351.2,589.3 351.4,594.2 351.5,594.9 351.7,592.8 351.9,599.5 352.0,596.9 352.2,589.6 352.3,594.6 352.5,597.8 352.6,590.5 352.8,591.9 352.9,589.8 353.1,594.4 353.2,593.5 353.4,591.4 353.5,597.8 353.7,592.1 353.8,591.0 354.0,594.0 354.1,593.2 354.3,594.5 354.4,592.5 354.6,591.4 354.7,589.9 354.9,591.1 355.0,594.1 355.2,588.3 355.3,587.6 355.5,586.9 355.6,585.8 355.8,586.7 355.9,584.4 356.1,583.1 356.2,582.8 356.4,582.7 356.5,583.2 356.7,583.1 356.8,583.6 357.0,582.7 357.1,584.9 357.3,586.1 357.4,588.5 357.6,588.4 357.7,588.7 357.9,588.1 358.0,588.6 358.2,588.5 358.3,592.7 358.5,594.1 358.7,594.5 358.8,594.3 359.0,595.5 359.1,594.3 359.3,590.9 359.4,597.7 359.6,592.2 359.7,595.2 359.9,594.1 360.0,597.2 360.2,603.0 360.3,587.0 360.5,595.5 360.6,596.2 360.8,592.2 360.9,592.6 361.1,584.8 361.2,589.9 361.4,594.2 361.5,591.9 361.7,599.0 361.8,596.5 362.0,596.1 362.1,591.5 362.3,594.9 362.4,601.2 362.6,592.5 362.7,598.8 362.9,594.6 363.0,595.9 363.2,589.8 363.3,599.9 363.5,596.9 363.6,597.1 363.8,589.0 363.9,590.6 364.1,602.0 364.2,597.3 364.4,593.8 364.5,591.6 364.7,592.7 364.8,594.6 365.0,591.7 365.1,592.3 365.3,593.7 365.4,599.6 365.6,592.9 365.8,594.9 365.9,593.2 366.1,595.7 366.2,589.9 366.4,588.9 366.5,595.7 366.7,595.0 366.8,597.7 367.0,596.0 367.1,595.2 367.3,591.0 367.4,594.3 367.6,595.5 367.7,598.9 367.9,589.1 368.0,596.2 368.2,595.5 368.3,600.5 368.5,596.2 368.6,588.1 368.8,596.6 368.9,591.4 369.1,595.1 369.2,602.6 369.4,596.7 369.5,597.7 369.7,599.4 369.8,597.3 370.0,596.3 370.1,589.8 370.3,597.0 370.4,595.6 370.6,597.7 370.7,597.1 370.9,591.4 371.0,594.3 371.2,596.4 371.3,594.3 371.5,592.4 371.6,595.2 371.8,596.8 371.9,594.7 372.1,598.3 372.2,596.4 372.4,598.8 372.6,598.5 372.7,598.0 372.9,592.3 373.0,600.9 373.2,597.0 373.3,600.1 373.5,600.2 373.6,597.2 373.8,602.9 373.9,593.8 374.1,595.5 374.2,595.0 374.4,600.8 374.5,598.1 374.7,599.2 374.8,602.1 375.0,596.6 375.1,598.2 375.3,597.6 375.4,593.9 375.6,602.0 375.7,599.8 375.9,600.0 376.0,595.1 376.2,601.6 376.3,599.9 376.5,596.9 376.6,599.3 376.8,597.0 376.9,599.8 377.1,593.8 377.2,595.4 377.4,600.0 377.5,595.0 377.7,590.8 377.8,603.6 378.0,596.0 378.1,594.7 378.3,594.8 378.4,597.0 378.6,602.1 378.7,598.3 378.9,597.5 379.0,600.4 379.2,598.0 379.3,602.0 379.5,605.4 379.7,597.7 379.8,597.6 380.0,598.2 380.1,597.7 380.3,597.2 380.4,596.4 380.6,600.8 380.7,597.7 380.9,597.5 381.0,604.5 381.2,598.3 381.3,599.4 381.5,600.5 381.6,597.9 381.8,602.2 381.9,601.4 382.1,603.3 382.2,598.9 382.4,596.3 382.5,599.6 382.7,602.3 382.8,597.8 383.0,598.3 383.1,600.0 383.3,599.4 383.4,603.6 383.6,604.6 383.7,601.4 383.9,602.5 384.0,605.5 384.2,600.0 384.3,606.5 384.5,602.0 384.6,598.0 384.8,601.0 384.9,599.2 385.1,603.1 385.2,600.8 385.4,600.1 385.5,601.3 385.7,600.6 385.8,600.4 386.0,608.1 386.1,603.6 386.3,602.9 386.5,602.5 386.6,605.5 386.8,603.1 386.9,600.7 387.1,603.9 387.2,600.6 387.4,603.2 387.5,598.7 387.7,603.5 387.8,599.7 388.0,602.7 388.1,602.3 388.3,601.2 388.4,601.2 388.6,607.9 388.7,597.7 388.9,603.8 389.0,603.9 389.2,603.4 389.3,603.3 389.5,604.7 389.6,602.1 389.8,604.5 389.9,599.8 390.1,602.0 390.2,600.0 390.4,601.9 390.5,598.9 390.7,599.7 390.8,602.4 391.0,601.3 391.1,598.2 391.3,603.4 391.4,600.1 391.6,598.9 391.7,599.1 391.9,594.9 392.0,600.3 392.2,603.9 392.3,600.0 392.5,602.4 392.6,600.4 392.8,599.8 392.9,604.4 393.1,603.8 393.2,605.1 393.4,600.4 393.6,602.8 393.7,602.1 393.9,602.3 394.0,604.3 394.2,600.6 394.3,597.5 394.5,602.2 394.6,599.5 394.8,597.4 394.9,600.1 395.1,601.5 395.2,597.6 395.4,603.4 395.5,603.4 395.7,599.9 395.8,605.1 396.0,600.8 396.1,598.9 396.3,594.6 396.4,600.7 396.6,602.0 396.7,600.5 396.9,597.3 397.0,596.8 397.2,603.4 397.3,604.4 397.5,599.1 397.6,597.3 397.8,603.0 397.9,603.2 398.1,599.6 398.2,600.1 398.4,601.4 398.5,596.9 398.7,599.6 398.8,595.1 399.0,602.7 399.1,604.9 399.3,604.3 399.4,601.6 399.6,598.3 399.7,598.7 399.9,602.7 400.0,601.6 400.2,599.1 400.4,605.3 400.5,604.6 400.7,598.1 400.8,602.4 401.0,599.7 401.1,601.0 401.3,603.7 401.4,603.7 401.6,604.8 401.7,599.7 401.9,602.2 402.0,603.7 402.2,593.1 402.3,596.8 402.5,599.9 402.6,598.6 402.8,601.0 402.9,599.0 403.1,597.8 403.2,600.7 403.4,597.1 403.5,599.8 403.7,606.7 403.8,599.1 404.0,602.6 404.1,607.7 404.3,609.7 404.4,602.9 404.6,604.0 404.7,598.5 404.9,605.9 405.0,603.0 405.2,601.4 405.3,600.5 405.5,599.6 405.6,599.0 405.8,606.1 405.9,602.6 406.1,604.4 406.2,600.4 406.4,599.6 406.5,600.1 406.7,605.6 406.8,605.1 407.0,606.2 407.1,597.4 407.3,602.5 407.5,600.0 407.6,593.9 407.8,603.3 407.9,601.1 408.1,606.6 408.2,607.9 408.4,601.9 408.5,602.7 408.7,605.7 408.8,602.3 409.0,603.4 409.1,603.3 409.3,601.4 409.4,602.5 409.6,603.7 409.7,606.6 409.9,600.9 410.0,600.5 410.2,600.9 410.3,599.2 410.5,599.6 410.6,605.4 410.8,604.8 410.9,602.4 411.1,601.7 411.2,602.7 411.4,605.8 411.5,602.2 411.7,602.8 411.8,603.1 412.0,598.3 412.1,604.6 412.3,600.8 412.4,598.2 412.6,603.5 412.7,598.9 412.9,598.1 413.0,598.2 413.2,607.0 413.3,593.3 413.5,594.3 413.6,599.8 413.8,604.7 413.9,595.2 414.1,601.1 414.3,601.8 414.4,602.5 414.6,605.0 414.7,600.2 414.9,609.0 415.0,602.0 415.2,600.7 415.3,598.9 415.5,602.6 415.6,603.0 415.8,604.1 415.9,598.8 416.1,603.2 416.2,600.8 416.4,599.4 416.5,602.1 416.7,598.5 416.8,601.9 417.0,599.0 417.1,603.1 417.3,606.5 417.4,601.3 417.6,597.7 417.7,601.7 417.9,595.6 418.0,599.3 418.2,599.8 418.3,599.5 418.5,597.1 418.6,595.5 418.8,595.9 418.9,599.3 419.1,604.3 419.2,601.3 419.4,600.1 419.5,604.9 419.7,597.5 419.8,603.6 420.0,595.6 420.1,603.1 420.3,599.9 420.4,602.9 420.6,606.4 420.7,604.9 420.9,597.4 421.0,595.6 421.2,599.3 421.4,602.0 421.5,604.7 421.7,600.9 421.8,597.8 422.0,598.7 422.1,603.9 422.3,601.8 422.4,606.9 422.6,601.9 422.7,602.0 422.9,603.3 423.0,597.9 423.2,607.0 423.3,597.9 423.5,603.2 423.6,607.0 423.8,604.9 423.9,597.1 424.1,605.3 424.2,597.4 424.4,596.1 424.5,601.4 424.7,604.8 424.8,600.6 425.0,605.4 425.1,599.6 425.3,598.5 425.4,604.5 425.6,598.1 425.7,600.6 425.9,598.6 426.0,607.2 426.2,609.5 426.3,604.8 426.5,604.0 426.6,603.2 426.8,602.8 426.9,597.9 427.1,603.2 427.2,602.5 427.4,604.3 427.5,602.1 427.7,594.5 427.8,599.6 428.0,611.1 428.2,598.2 428.3,604.9 428.5,604.4 428.6,603.7 428.8,606.7 428.9,603.2 429.1,597.9 429.2,602.7 429.4,599.2 429.5,602.1 429.7,598.8 429.8,601.9 430.0,600.3 430.1,605.2 430.3,601.0 430.4,595.6 430.6,603.1 430.7,602.6 430.9,605.2 431.0,600.5 431.2,597.0 431.3,601.1 431.5,606.3 431.6,597.8 431.8,598.9 431.9,603.4 432.1,606.0 432.2,605.5 432.4,601.6 432.5,600.3 432.7,599.1 432.8,597.9 433.0,609.0 433.1,602.2 433.3,604.8 433.4,594.8 433.6,601.1 433.7,601.0 433.9,597.4 434.0,602.0 434.2,602.8 434.3,597.5 434.5,602.4 434.6,603.2 434.8,599.5 434.9,593.6 435.1,601.7 435.3,600.5 435.4,602.7 435.6,605.7 435.7,594.1 435.9,601.9 436.0,600.3 436.2,599.3 436.3,601.2 436.5,604.7 436.6,605.4 436.8,594.7 436.9,604.5 437.1,604.0 437.2,604.4 437.4,604.9 437.5,602.8 437.7,598.3 437.8,600.6 438.0,600.4 438.1,608.8 438.3,602.9 438.4,603.6 438.6,601.8 438.7,605.4 438.9,606.5 439.0,605.5 439.2,604.7 439.3,602.1 439.5,603.9 439.6,604.1 439.8,597.7 439.9,597.5 440.1,603.7 440.2,599.1 440.4,598.8 440.5,606.5 440.7,601.6 440.8,607.1 441.0,601.1 441.1,609.7 441.3,603.5 441.4,600.5 441.6,602.0 441.7,607.2 441.9,603.0 442.1,600.6 442.2,605.2 442.4,606.6 442.5,603.7 442.7,605.2 442.8,610.9 443.0,602.8 443.1,601.6 443.3,604.5 443.4,603.4 443.6,603.8 443.7,604.7 443.9,605.3 444.0,602.8 444.2,601.5 444.3,610.6 444.5,600.1 444.6,604.3 444.8,604.3 444.9,606.2 445.1,608.5 445.2,601.1 445.4,604.8 445.5,605.1 445.7,603.0 445.8,608.2 446.0,606.3 446.1,600.8 446.3,608.7 446.4,606.2 446.6,612.8 446.7,609.0 446.9,603.7 447.0,605.1 447.2,603.9 447.3,603.5 447.5,608.5 447.6,603.5 447.8,606.0 447.9,602.1 448.1,605.2 448.2,602.9 448.4,607.3 448.5,602.7 448.7,603.5 448.8,608.3 449.0,609.6 449.2,604.3 449.3,604.6 449.5,602.4 449.6,603.7 449.8,610.1 449.9,605.0 450.1,609.2 450.2,603.8 450.4,605.8 450.5,603.5 450.7,604.8 450.8,606.7 451.0,599.6 451.1,601.8 451.3,605.2 451.4,602.3 451.6,607.3 451.7,604.3 451.9,606.7 452.0,601.4 452.2,602.8 452.3,602.3 452.5,602.4 452.6,602.7 452.8,605.8 452.9,604.1 453.1,605.9 453.2,602.9 453.4,605.7 453.5,604.7 453.7,600.8 453.8,613.6 454.0,605.3 454.1,602.6 454.3,601.9 454.4,605.1 454.6,605.1 454.7,604.0 454.9,603.8 455.0,601.3 455.2,604.6 455.3,608.2 455.5,601.1 455.6,607.3 455.8,602.4 456.0,608.0 456.1,611.6 456.3,606.9 456.4,602.3 456.6,605.0 456.7,603.3 456.9,606.7 457.0,603.0 457.2,602.0 457.3,605.1 457.5,601.6 457.6,603.7 457.8,601.8 457.9,606.9 458.1,605.9 458.2,606.5 458.4,604.4 458.5,601.3 458.7,608.3 458.8,606.0 459.0,605.9 459.1,604.6 459.3,605.7 459.4,606.0 459.6,608.8 459.7,604.6 459.9,602.1 460.0,609.2 460.2,605.0 460.3,605.7 460.5,604.6 460.6,602.7 460.8,597.7 460.9,603.7 461.1,607.1 461.2,608.1 461.4,597.8 461.5,606.2 461.7,610.3 461.8,606.5 462.0,605.4 462.1,600.4 462.3,611.8 462.4,606.6 462.6,604.4 462.8,607.5 462.9,610.5 463.1,604.6 463.2,603.6 463.4,604.9 463.5,601.9 463.7,607.0 463.8,608.4 464.0,603.1 464.1,602.7 464.3,606.2 464.4,612.2 464.6,606.7 464.7,604.2 464.9,606.3 465.0,605.4 465.2,603.5 465.3,603.3 465.5,596.4 465.6,603.9 465.8,609.7 465.9,600.3 466.1,604.0 466.2,605.8 466.4,605.8 466.5,606.0 466.7,603.0 466.8,602.1 467.0,602.8 467.1,610.5 467.3,601.5 467.4,606.7 467.6,607.2 467.7,604.6 467.9,606.5 468.0,605.9 468.2,605.3 468.3,611.2 468.5,603.0 468.6,600.2 468.8,610.5 468.9,611.7 469.1,609.8 469.2,609.0 469.4,608.6 469.5,604.2 469.7,608.7 469.9,611.6 470.0,609.5 470.2,605.7 470.3,608.8 470.5,607.2 470.6,611.6 470.8,605.8 470.9,607.0 471.1,608.2 471.2,605.8 471.4,610.3 471.5,605.5 471.7,606.9 471.8,602.6 472.0,609.4 472.1,607.7 472.3,602.5 472.4,611.6 472.6,607.1 472.7,607.6 472.9,600.7 473.0,603.8 473.2,605.6 473.3,610.0 473.5,606.0 473.6,604.9 473.8,606.0 473.9,605.4 474.1,606.4 474.2,605.6 474.4,601.7 474.5,606.2 474.7,603.7 474.8,606.7 475.0,608.2 475.1,607.0 475.3,606.8 475.4,610.4 475.6,605.2 475.7,605.5 475.9,607.4 476.0,602.7 476.2,606.4 476.3,601.8 476.5,601.1 476.7,598.8 476.8,599.5 477.0,598.5 477.1,594.6 477.3,597.0 477.4,594.4 477.6,591.9 477.7,591.2 477.9,590.1 478.0,588.4 478.2,587.6 478.3,586.7 478.5,585.8 478.6,586.1 478.8,585.9 478.9,587.5 479.1,587.0 479.2,588.9 479.4,590.5 479.5,591.5 479.7,594.9 479.8,594.5 480.0,596.0 480.1,598.1 480.3,597.4 480.4,601.6 480.6,601.1 480.7,604.0 480.9,601.0 481.0,602.3 481.2,603.2 481.3,607.6 481.5,601.5 481.6,603.9 481.8,604.9 481.9,604.7 482.1,604.1 482.2,601.2 482.4,607.1 482.5,605.0 482.7,610.2 482.8,607.9 483.0,608.8 483.1,614.4 483.3,606.6 483.4,605.9 483.6,604.2 483.8,604.5 483.9,606.3 484.1,603.8 484.2,605.1 484.4,608.4 484.5,602.6 484.7,611.7 484.8,606.5 485.0,616.0 485.1,607.6 485.3,605.7 485.4,603.3 485.6,608.5 485.7,613.3 485.9,603.9 486.0,609.2 486.2,609.2 486.3,606.2 486.5,613.9 486.6,605.2 486.8,608.2 486.9,606.9 487.1,607.6 487.2,608.0 487.4,607.1 487.5,604.3 487.7,604.5 487.8,603.2 488.0,597.2 488.1,611.3 488.3,605.5 488.4,603.2 488.6,603.7 488.7,604.7 488.9,603.5 489.0,605.3 489.2,598.9 489.3,600.6 489.5,607.5 489.6,607.6 489.8,605.8 489.9,606.5 490.1,607.8 490.2,606.5 490.4,608.9 490.6,608.0 490.7,606.6 490.9,608.8 491.0,609.8 491.2,604.3 491.3,601.5 491.5,603.7 491.6,608.9 491.8,602.4 491.9,607.8 492.1,604.5 492.2,610.3 492.4,606.8 492.5,602.9 492.7,603.8 492.8,605.8 493.0,604.4 493.1,606.7 493.3,604.1 493.4,600.9 493.6,598.1 493.7,606.8 493.9,602.1 494.0,603.1 494.2,604.8 494.3,608.2 494.5,603.8 494.6,610.6 494.8,607.3 494.9,603.4 495.1,605.6 495.2,607.2 495.4,606.0 495.5,610.5 495.7,608.9 495.8,604.8 496.0,604.6 496.1,600.9 496.3,603.2 496.4,602.5 496.6,604.2 496.7,606.0 496.9,607.7 497.0,601.8 497.2,607.8 497.3,607.2 497.5,606.0 497.7,607.3 497.8,606.0 498.0,605.5 498.1,605.3 498.3,603.8 498.4,610.9 498.6,602.9 498.7,600.9 498.9,600.7 499.0,605.9 499.2,600.8 499.3,605.2 499.5,600.5 499.6,604.1 499.8,603.4 499.9,598.9 500.1,606.6 500.2,606.0 500.4,605.3 500.5,612.8 500.7,604.3 500.8,607.0 501.0,610.0 501.1,603.8 501.3,602.5 501.4,609.3 501.6,606.6 501.7,603.5 501.9,603.2 502.0,601.1 502.2,609.3 502.3,603.4 502.5,608.1 502.6,602.6 502.8,604.3 502.9,605.0 503.1,602.1 503.2,605.5 503.4,602.6 503.5,608.8 503.7,609.6 503.8,604.5 504.0,600.4 504.1,604.6 504.3,605.2 504.5,603.0 504.6,605.1 504.8,609.6 504.9,609.9 505.1,600.3 505.2,607.9 505.4,605.0 505.5,603.6 505.7,606.5 505.8,598.4 506.0,608.8 506.1,610.9 506.3,614.3 506.4,607.8 506.6,607.8 506.7,600.3 506.9,607.6 507.0,606.2 507.2,601.0 507.3,605.6 507.5,600.7 507.6,610.1 507.8,602.3 507.9,600.1 508.1,604.8 508.2,605.5 508.4,603.1 508.5,610.7 508.7,604.9 508.8,603.9 509.0,606.9 509.1,607.1 509.3,601.8 509.4,606.4 509.6,611.7 509.7,596.9 509.9,602.1 510.0,603.4 510.2,609.6 510.3,606.4 510.5,606.8 510.6,608.5 510.8,603.2 510.9,606.7 511.1,601.3 511.2,606.9 511.4,603.4 511.6,599.3 511.7,607.4 511.9,610.3 512.0,607.9 512.2,604.0 512.3,612.7 512.5,608.2 512.6,601.2 512.8,606.5 512.9,603.6 513.1,600.4 513.2,603.0 513.4,603.4 513.5,601.8 513.7,609.0 513.8,603.1 514.0,612.3 514.1,607.5 514.3,603.6 514.4,606.0 514.6,605.4 514.7,602.6 514.9,606.4 515.0,607.0 515.2,610.4 515.3,605.5 515.5,603.3 515.6,611.9 515.8,609.0 515.9,607.3 516.1,608.9 516.2,607.5 516.4,609.0 516.5,606.7 516.7,605.3 516.8,605.7 517.0,607.1 517.1,604.8 517.3,609.1 517.4,613.6 517.6,607.2 517.7,600.5 517.9,605.7 518.0,609.5 518.2,601.4 518.4,604.6 518.5,600.1 518.7,607.7 518.8,606.0 519.0,609.9 519.1,607.4 519.3,602.3 519.4,606.4 519.6,602.7 519.7,604.9 519.9,608.2 520.0,608.2 520.2,607.5 520.3,609.4 520.5,612.9 520.6,615.6 520.8,604.0 520.9,610.1 521.1,610.7 521.2,608.9 521.4,605.6 521.5,607.0 521.7,608.5 521.8,607.1 522.0,605.4 522.1,603.3 522.3,609.5 522.4,614.1 522.6,603.6 522.7,601.3 522.9,603.5 523.0,606.2 523.2,613.2 523.3,613.7 523.5,606.2 523.6,607.5 523.8,609.5 523.9,605.8 524.1,603.2 524.2,605.6 524.4,601.6 524.5,606.2 524.7,604.7 524.8,607.6 525.0,607.3 525.1,606.0 525.3,607.5 525.5,604.1 525.6,611.5 525.8,607.1 525.9,606.1 526.1,606.5 526.2,610.9 526.4,612.7 526.5,611.4 526.7,608.0 526.8,607.3 527.0,615.7 527.1,604.3 527.3,600.9 527.4,607.0 527.6,604.3 527.7,616.1 527.9,607.7 528.0,610.3 528.2,600.4 528.3,608.4 528.5,608.6 528.6,602.8 528.8,606.7 528.9,604.4 529.1,606.9 529.2,601.8 529.4,603.8 529.5,605.2 529.7,604.5 529.8,610.1 530.0,608.9 530.1,606.5 530.3,607.0 530.4,609.2 530.6,605.8 530.7,605.0 530.9,604.4 531.0,607.6 531.2,610.2 531.3,612.8 531.5,609.4 531.6,609.7 531.8,608.3 531.9,605.3 532.1,611.6 532.3,606.1 532.4,606.4 532.6,602.1 532.7,606.9 532.9,606.9 533.0,608.8 533.2,608.2 533.3,609.4 533.5,607.6 533.6,608.6 533.8,608.2 533.9,608.9 534.1,613.0 534.2,608.6 534.4,606.5 534.5,608.9 534.7,605.3 534.8,610.8 535.0,607.7 535.1,607.9 535.3,613.6 535.4,610.4 535.6,615.3 535.7,608.5 535.9,602.6 536.0,616.9 536.2,612.3 536.3,607.1 536.5,605.1 536.6,604.2 536.8,611.7 536.9,613.4 537.1,607.1 537.2,606.9 537.4,611.6 537.5,608.7 537.7,607.9 537.8,610.3 538.0,605.8 538.1,609.5 538.3,606.4 538.4,606.3 538.6,610.5 538.7,610.9 538.9,609.0 539.0,608.7 539.2,607.2 539.4,615.1 539.5,611.9 539.7,612.7 539.8,614.3 540.0,608.1 540.1,608.2 540.3,611.1 540.4,610.9 540.6,612.4 540.7,604.8 540.9,615.3 541.0,608.2 541.2,612.7 541.3,606.8 541.5,605.2 541.6,612.4 541.8,603.5 541.9,609.2 542.1,603.9 542.2,608.9 542.4,608.7 542.5,609.1 542.7,609.5 542.8,610.6 543.0,606.9 543.1,609.2 543.3,610.2 543.4,607.8 543.6,609.6 543.7,612.2 543.9,611.4 544.0,605.7 544.2,613.5 544.3,615.4 544.5,608.5 544.6,608.2 544.8,612.0 544.9,605.9 545.1,613.8 545.2,609.5 545.4,605.8 545.5,606.7 545.7,612.2 545.8,608.9 546.0,607.1 546.2,608.2 546.3,612.5 546.5,602.3 546.6,608.3 546.8,608.1 546.9,606.2 547.1,606.7 547.2,610.3 547.4,612.5 547.5,610.9 547.7,612.4 547.8,609.6 548.0,610.3 548.1,607.9 548.3,609.5 548.4,603.9 548.6,611.2 548.7,617.5 548.9,610.4 549.0,609.4 549.2,607.5 549.3,610.4 549.5,611.8 549.6,611.5 549.8,600.9 549.9,604.9 550.1,611.6 550.2,601.1 550.4,608.4 550.5,607.7 550.7,607.6 550.8,605.8 551.0,607.2 551.1,609.9 551.3,605.2 551.4,603.8 551.6,608.4 551.7,610.7 551.9,610.7 552.0,611.6 552.2,610.1 552.3,610.9 552.5,607.3 552.6,614.1 552.8,609.3 552.9,605.5 553.1,613.5 553.3,614.2 553.4,613.9 553.6,607.1 553.7,609.2 553.9,610.9 554.0,611.5 554.2,610.7 554.3,610.5 554.5,609.6 554.6,608.1 554.8,607.2 554.9,609.6 555.1,613.4 555.2,615.9 555.4,609.8 555.5,610.9 555.7,608.7 555.8,612.0 556.0,611.0 556.1,607.9 556.3,607.1 556.4,612.1 556.6,610.0 556.7,612.9 556.9,610.6 557.0,607.0 557.2,610.6 557.3,607.3 557.5,605.1 557.6,602.2 557.8,605.8 557.9,606.6 558.1,610.1 558.2,606.1 558.4,602.1 558.5,607.1 558.7,600.4 558.8,607.6 559.0,604.6 559.1,616.4 559.3,606.5 559.4,607.6 559.6,607.8 559.7,604.9 559.9,610.6 560.1,610.7 560.2,608.6 560.4,608.8 560.5,609.6 560.7,607.1 560.8,611.6 561.0,614.2 561.1,607.0 561.3,608.0 561.4,612.4 561.6,602.7 561.7,609.3 561.9,606.0 562.0,605.5 562.2,613.3 562.3,607.8 562.5,604.1 562.6,609.0 562.8,607.4 562.9,610.4 563.1,607.4 563.2,608.8 563.4,601.0 563.5,608.9 563.7,605.6 563.8,610.4 564.0,612.4 564.1,612.7 564.3,611.7 564.4,606.6 564.6,614.5 564.7,614.5 564.9,611.9 565.0,612.1 565.2,613.0 565.3,609.3 565.5,608.1 565.6,616.0 565.8,613.5 565.9,611.5 566.1,606.4 566.2,608.9 566.4,604.5 566.5,609.8 566.7,611.9 566.8,609.0 567.0,609.5 567.2,615.9 567.3,613.9 567.5,613.8 567.6,606.4 567.8,612.3 567.9,614.8 568.1,610.5 568.2,610.5 568.4,610.1 568.5,618.5 568.7,608.2 568.8,608.5 569.0,614.2 569.1,609.3 569.3,607.4 569.4,611.6 569.6,606.6 569.7,607.7 569.9,615.0 570.0,605.4 570.2,614.3 570.3,609.6 570.5,611.0 570.6,611.1 570.8,611.8 570.9,611.0 571.1,609.3 571.2,608.6 571.4,613.3 571.5,614.5 571.7,615.0 571.8,612.4 572.0,613.2 572.1,607.6 572.3,609.6 572.4,611.1 572.6,612.4 572.7,608.8 572.9,608.9 573.0,609.7 573.2,615.5 573.3,608.8 573.5,615.1 573.6,607.2 573.8,614.4 574.0,612.6 574.1,614.0 574.3,614.0 574.4,616.2 574.6,617.0 574.7,613.7 574.9,613.7 575.0,604.8 575.2,610.9 575.3,612.3 575.5,620.5 575.6,612.2 575.8,613.8 575.9,611.0 576.1,606.4 576.2,604.2 576.4,613.3 576.5,608.8 576.7,607.5 576.8,616.1 577.0,613.7 577.1,613.0 577.3,613.1 577.4,610.6 577.6,614.9 577.7,612.0 577.9,615.1 578.0,620.1 578.2,610.4 578.3,609.9 578.5,614.6 578.6,608.7 578.8,611.1 578.9,612.1 579.1,613.6 579.2,609.0 579.4,611.2 579.5,612.7 579.7,608.8 579.8,614.6 580.0,607.1 580.1,609.8 580.3,614.1 580.4,612.6 580.6,609.3 580.7,613.9 580.9,613.8 581.1,612.4 581.2,612.7 581.4,609.4 581.5,614.7 581.7,614.7 581.8,612.0 582.0,607.0 582.1,613.6 582.3,607.6 582.4,611.2 582.6,608.5 582.7,607.2 582.9,603.0 583.0,613.5 583.2,611.4 583.3,608.3 583.5,614.6 583.6,611.7 583.8,613.5 583.9,605.3 584.1,614.5 584.2,617.7 584.4,612.2 584.5,610.2 584.7,614.3 584.8,614.4 585.0,614.5 585.1,613.2 585.3,610.4 585.4,607.8 585.6,612.9 585.7,617.7 585.9,612.7 586.0,616.3 586.2,613.5 586.3,611.2 586.5,615.0 586.6,613.0 586.8,611.7 586.9,615.2 587.1,616.1 587.2,607.0 587.4,615.8 587.5,614.0 587.7,614.3 587.9,610.6 588.0,614.4 588.2,616.8 588.3,609.2 588.5,614.9 588.6,609.0 588.8,605.9 588.9,613.0 589.1,614.2 589.2,615.1 589.4,611.2 589.5,612.5 589.7,615.7 589.8,614.0 590.0,616.7 590.1,611.6 590.3,614.4 590.4,612.2 590.6,617.7 590.7,612.4 590.9,613.2 591.0,610.5 591.2,611.8 591.3,613.9 591.5,614.6 591.6,612.7 591.8,617.2 591.9,607.8 592.1,611.0 592.2,615.8 592.4,615.0 592.5,613.9 592.7,614.3 592.8,615.3 593.0,613.0 593.1,617.0 593.3,615.0 593.4,614.3 593.6,611.4 593.7,609.5 593.9,613.8 594.0,611.7 594.2,613.9 594.3,610.0 594.5,616.2 594.6,618.0 594.8,612.3 595.0,609.6 595.1,609.8 595.3,614.0 595.4,615.4 595.6,614.8 595.7,611.3 595.9,612.8 596.0,616.1 596.2,615.1 596.3,611.6 596.5,614.6 596.6,613.1 596.8,615.7 596.9,612.5 597.1,612.1 597.2,612.3 597.4,613.0 597.5,616.8 597.7,610.0 597.8,617.3 598.0,614.3 598.1,614.2 598.3,616.2 598.4,615.1 598.6,613.9 598.7,617.2 598.9,620.2 599.0,617.2 599.2,613.8 599.3,614.4 599.5,615.6 599.6,611.9 599.8,614.5 599.9,614.1 600.1,615.3 600.2,615.1 600.4,611.5 600.5,612.0 600.7,618.6 600.8,613.2 601.0,609.2 601.1,607.6 601.3,614.2 601.4,610.9 601.6,613.0 601.8,615.3 601.9,614.9 602.1,614.0 602.2,616.2 602.4,614.6 602.5,612.8 602.7,620.0 602.8,615.5 603.0,609.1 603.1,613.0 603.3,615.9 603.4,613.4 603.6,613.1 603.7,618.4 603.9,618.9 604.0,611.8 604.2,612.0 604.3,616.2 604.5,614.4 604.6,612.6 604.8,611.9 604.9,613.9 605.1,608.2 605.2,616.9 605.4,622.0 605.5,617.0 605.7,609.3 605.8,612.2 606.0,616.4 606.1,612.8 606.3,615.1 606.4,617.2 606.6,619.5 606.7,614.0 606.9,613.8 607.0,613.9 607.2,616.6 607.3,614.7 607.5,612.7 607.6,615.4 607.8,616.6 607.9,613.1 608.1,614.5 608.2,615.7 608.4,610.0 608.5,614.5 608.7,612.2 608.9,617.5 609.0,617.4 609.2,618.1 609.3,607.7 609.5,611.3 609.6,613.0 609.8,613.3 609.9,614.6 610.1,615.5 610.2,612.2 610.4,614.9 610.5,618.8 610.7,614.1 610.8,613.2 611.0,610.1 611.1,618.7 611.3,614.4 611.4,614.9 611.6,620.9 611.7,613.8 611.9,618.3 612.0,616.0 612.2,614.4 612.3,612.9 612.5,615.4 612.6,619.8 612.8,613.9 612.9,624.3 613.1,615.6 613.2,608.0 613.4,614.2 613.5,615.5 613.7,612.0 613.8,616.7 614.0,612.6 614.1,620.8 614.3,611.5 614.4,613.2 614.6,612.0 614.7,612.0 614.9,615.0 615.0,613.1 615.2,615.3 615.3,621.9 615.5,619.8 615.7,614.9 615.8,618.8 616.0,619.3 616.1,618.7 616.3,616.7 616.4,618.9 616.6,618.5 616.7,616.7 616.9,618.2 617.0,617.6 617.2,618.7 617.3,616.6 617.5,614.7 617.6,616.7 617.8,618.4 617.9,615.8 618.1,619.1 618.2,616.4 618.4,615.1 618.5,613.8 618.7,619.7 618.8,618.1 619.0,615.3 619.1,618.3 619.3,617.3 619.4,624.2 619.6,623.1 619.7,612.9 619.9,615.4 620.0,618.0 620.2,611.7 620.3,612.9 620.5,613.8 620.6,614.0 620.8,615.1 620.9,615.6 621.1,614.7 621.2,616.4 621.4,619.1 621.5,618.7 621.7,615.4 621.8,617.3 622.0,622.1 622.1,617.5 622.3,617.4 622.4,618.6 622.6,613.5 622.8,618.1 622.9,620.6 623.1,610.9 623.2,618.2 623.4,615.8 623.5,616.7 623.7,611.2 623.8,616.0 624.0,616.6 624.1,610.7 624.3,612.6 624.4,615.3 624.6,615.5 624.7,611.9 624.9,614.1 625.0,622.1 625.2,611.6 625.3,614.8 625.5,612.5 625.6,615.9 625.8,616.2 625.9,619.5 626.1,615.7 626.2,612.5 626.4,616.3 626.5,614.3 626.7,615.7 626.8,618.6 627.0,617.3 627.1,622.7 627.3,616.1 627.4,618.4 627.6,618.4 627.7,611.1 627.9,620.0 628.0,614.9 628.2,616.8 628.3,619.5 628.5,616.7 628.6,623.0 628.8,617.1 628.9,615.2 629.1,619.1 629.2,617.5 629.4,618.9 629.6,620.4 629.7,610.4 629.9,617.3 630.0,622.0 630.2,616.5 630.3,613.1 630.5,616.1 630.6,615.2 630.8,614.6 630.9,617.0 631.1,622.1 631.2,612.3 631.4,614.3 631.5,613.9 631.7,613.3 631.8,620.1 632.0,618.8 632.1,616.0 632.3,614.9 632.4,618.5 632.6,620.0 632.7,614.5 632.9,616.7 633.0,619.9 633.2,619.1 633.3,612.1 633.5,617.2 633.6,615.2 633.8,616.8 633.9,621.2 634.1,622.7 634.2,615.4 634.4,616.7 634.5,619.4 634.7,620.2 634.8,615.5 635.0,612.1 635.1,615.5 635.3,617.8 635.4,612.5 635.6,616.6 635.7,619.3 635.9,621.5 636.0,610.4 636.2,617.1 636.3,618.7 636.5,618.8 636.7,619.9 636.8,618.5 637.0,624.5 637.1,618.3 637.3,619.0 637.4,616.5 637.6,614.7 637.7,619.7 637.9,619.8 638.0,621.3 638.2,623.0 638.3,618.7 638.5,618.3 638.6,616.2 638.8,620.2 638.9,619.0 639.1,616.4 639.2,618.1 639.4,618.3 639.5,618.5 639.7,622.4 639.8,618.5 640.0,621.4 640.1,616.9 640.3,615.5 640.4,621.0 640.6,624.8 640.7,623.7 640.9,621.3 641.0,624.6 641.2,620.3 641.3,623.6 641.5,623.0 641.6,618.9 641.8,617.8 641.9,618.6 642.1,621.6 642.2,619.1 642.4,619.4 642.5,620.0 642.7,616.7 642.8,621.8 643.0,618.4 643.1,619.6 643.3,620.2 643.5,620.0 643.6,624.0 643.8,622.0 643.9,620.4 644.1,615.5 644.2,625.4 644.4,619.4 644.5,617.4 644.7,624.1 644.8,620.4 645.0,618.8 645.1,620.7 645.3,618.7 645.4,618.7 645.6,618.5 645.7,621.8 645.9,622.0 646.0,621.8 646.2,623.7 646.3,623.2 646.5,621.6 646.6,626.9 646.8,622.9 646.9,623.6 647.1,616.4 647.2,612.2 647.4,617.2 647.5,623.4 647.7,618.4 647.8,619.4 648.0,619.7 648.1,619.2 648.3,617.1 648.4,615.5 648.6,621.4 648.7,618.0 648.9,617.4 649.0,618.2 649.2,620.2 649.3,621.0 649.5,619.9 649.6,614.9 649.8,617.0 649.9,616.8 650.1,613.1 650.2,617.9 650.4,621.3 650.6,618.0 650.7,620.4 650.9,618.8 651.0,617.9 651.2,611.3 651.3,620.7 651.5,616.0 651.6,627.4 651.8,628.3 651.9,622.9 652.1,623.8 652.2,618.4 652.4,622.1 652.5,623.4 652.7,626.5 652.8,620.7 653.0,615.9 653.1,614.5 653.3,617.1 653.4,617.0 653.6,618.0 653.7,622.5 653.9,618.0 654.0,616.6 654.2,621.8 654.3,618.5 654.5,617.6 654.6,611.4 654.8,619.0 654.9,615.5 655.1,614.4 655.2,622.7 655.4,610.9 655.5,622.6 655.7,620.9 655.8,626.9 656.0,623.4 656.1,617.0 656.3,615.3 656.4,620.2 656.6,620.4 656.7,623.6 656.9,619.3 657.0,621.1 657.2,619.0"/>
<g style="font-family:'Liberation Sans',sans-serif;font-weight:bold;font-size:18.6px" fill="#000" text-anchor="middle">
<text x="53.0" y="703.2">10</text>
<text x="204.1" y="703.2">20</text>
<text x="355.1" y="703.2">30</text>
<text x="506.2" y="703.2">40</text>
<text x="657.2" y="703.2">50</text>
</g>
<text x="354.6" y="729.2" text-anchor="middle" style="font-family:'Liberation Sans',sans-serif;font-weight:bold;font-size:18.6px">2θ (degrees)</text>
<text transform="translate(15,534.3) rotate(-90)" text-anchor="middle" style="font-family:'Liberation Sans',sans-serif;font-weight:bold;font-size:18.6px">Intensity (a.u.)</text>
<text x="-0.7" y="415.5" style="font-family:'Liberation Sans',sans-serif;font-weight:bold;font-size:18.6px">(B)</text>
<path d="M484.1,422.9 H513.9" stroke="#000" stroke-width="1"/>
<path d="M554.1,422.9 H583.6" stroke="#f00" stroke-width="1"/>
<text x="518" y="429.3" style="font-family:'Liberation Sans',sans-serif;font-weight:bold;font-size:18.6px">MF</text>
<text x="586.9" y="429.3" style="font-family:'Liberation Sans',sans-serif;font-weight:bold;font-size:18.6px">MF with Cd</text>
</svg>
</body></html>
